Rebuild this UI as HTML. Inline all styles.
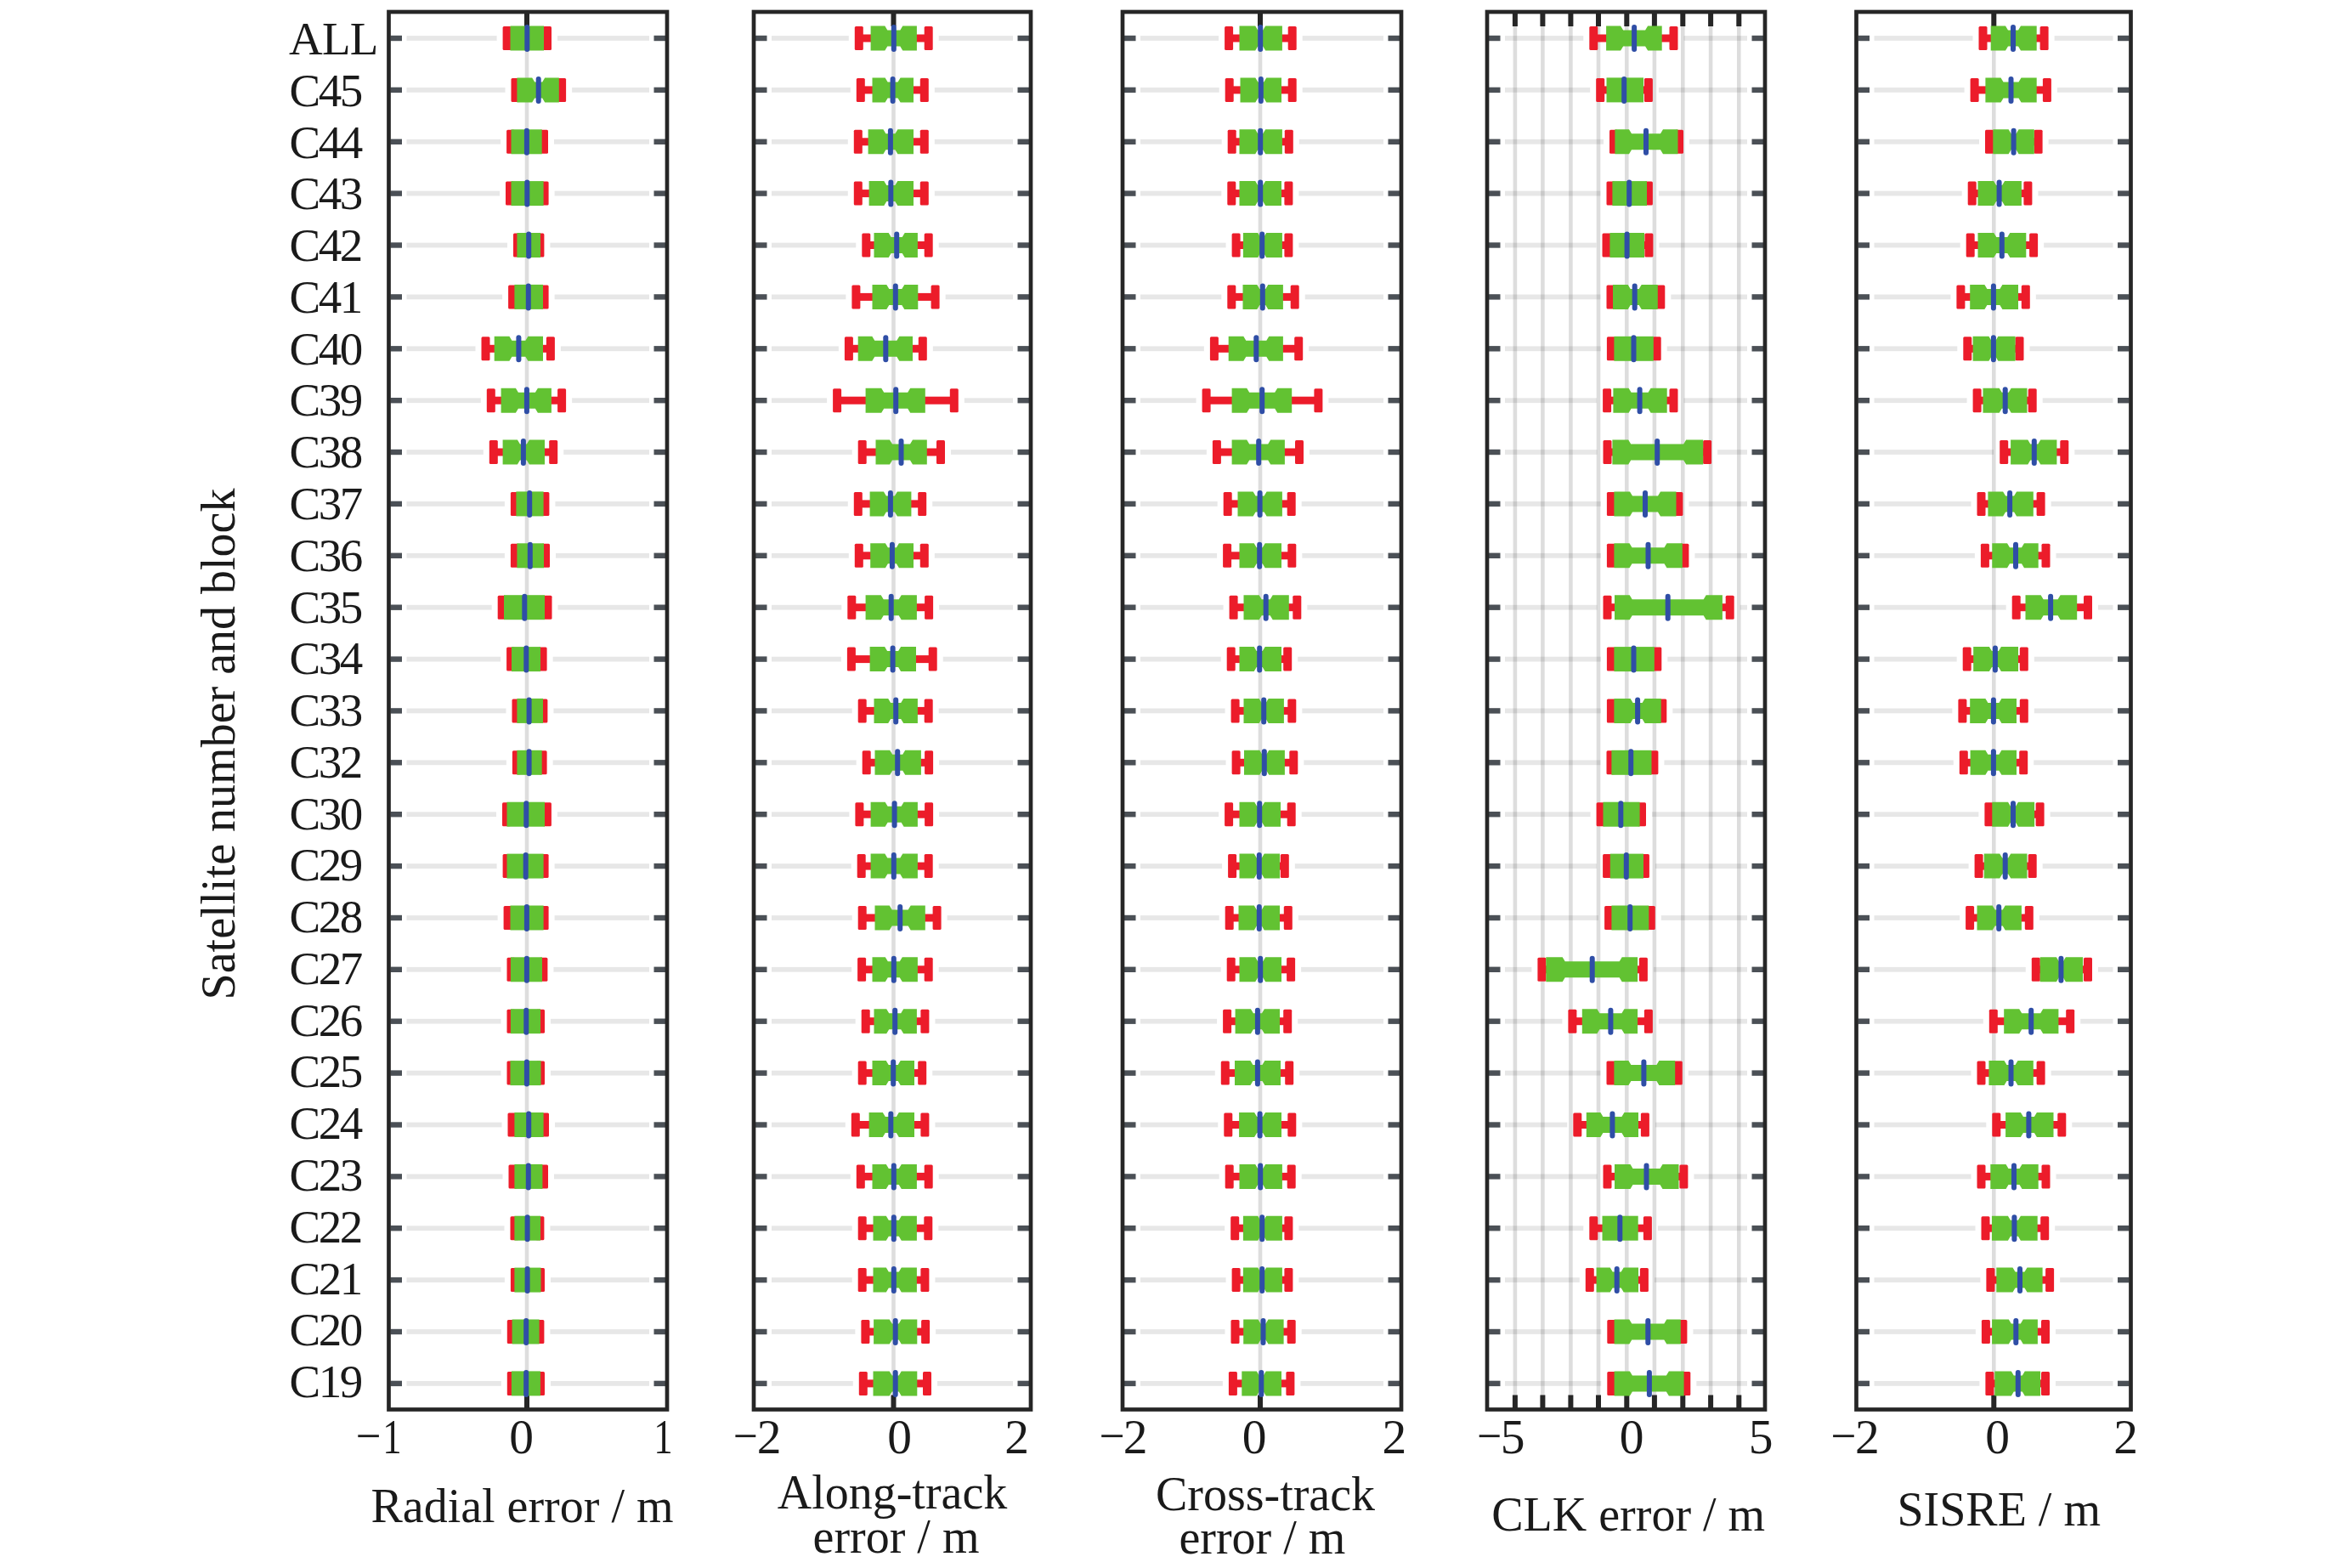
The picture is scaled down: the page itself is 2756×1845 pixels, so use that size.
<!DOCTYPE html><html><head><meta charset="utf-8"><style>html,body{margin:0;padding:0;background:#fff;width:2756px;height:1845px;overflow:hidden}svg{display:block}</style></head><body>
<svg width="2756" height="1845" viewBox="0 0 2756 1845" font-family="Liberation Serif, serif" fill="#1a1a1a">
<rect width="2756" height="1845" fill="#fff"/>
<rect x="617.7" y="14" width="4.6" height="1644.5" fill="#000" fill-opacity="0.135"/>
<rect x="478.5" y="42.1" width="106.1" height="5.8" fill="#000" fill-opacity="0.095"/>
<rect x="656" y="42.1" width="108" height="5.8" fill="#000" fill-opacity="0.095"/>
<rect x="478.5" y="103" width="116" height="5.8" fill="#000" fill-opacity="0.095"/>
<rect x="673.1" y="103" width="90.9" height="5.8" fill="#000" fill-opacity="0.095"/>
<rect x="478.5" y="163.9" width="110.6" height="5.8" fill="#000" fill-opacity="0.095"/>
<rect x="652" y="163.9" width="112" height="5.8" fill="#000" fill-opacity="0.095"/>
<rect x="478.5" y="224.7" width="109.5" height="5.8" fill="#000" fill-opacity="0.095"/>
<rect x="652.6" y="224.7" width="111.4" height="5.8" fill="#000" fill-opacity="0.095"/>
<rect x="478.5" y="285.6" width="118.5" height="5.8" fill="#000" fill-opacity="0.095"/>
<rect x="647.4" y="285.6" width="116.6" height="5.8" fill="#000" fill-opacity="0.095"/>
<rect x="478.5" y="346.5" width="112.6" height="5.8" fill="#000" fill-opacity="0.095"/>
<rect x="652.6" y="346.5" width="111.4" height="5.8" fill="#000" fill-opacity="0.095"/>
<rect x="478.5" y="407.4" width="81" height="5.8" fill="#000" fill-opacity="0.095"/>
<rect x="659.9" y="407.4" width="104.1" height="5.8" fill="#000" fill-opacity="0.095"/>
<rect x="478.5" y="468.3" width="87.3" height="5.8" fill="#000" fill-opacity="0.095"/>
<rect x="673.1" y="468.3" width="90.9" height="5.8" fill="#000" fill-opacity="0.095"/>
<rect x="478.5" y="529.1" width="90.3" height="5.8" fill="#000" fill-opacity="0.095"/>
<rect x="663.2" y="529.1" width="100.8" height="5.8" fill="#000" fill-opacity="0.095"/>
<rect x="478.5" y="590" width="115.4" height="5.8" fill="#000" fill-opacity="0.095"/>
<rect x="653.4" y="590" width="110.6" height="5.8" fill="#000" fill-opacity="0.095"/>
<rect x="478.5" y="650.9" width="115.4" height="5.8" fill="#000" fill-opacity="0.095"/>
<rect x="654" y="650.9" width="110" height="5.8" fill="#000" fill-opacity="0.095"/>
<rect x="478.5" y="711.8" width="100.2" height="5.8" fill="#000" fill-opacity="0.095"/>
<rect x="656.5" y="711.8" width="107.5" height="5.8" fill="#000" fill-opacity="0.095"/>
<rect x="478.5" y="772.7" width="110.6" height="5.8" fill="#000" fill-opacity="0.095"/>
<rect x="650.6" y="772.7" width="113.4" height="5.8" fill="#000" fill-opacity="0.095"/>
<rect x="478.5" y="833.5" width="117" height="5.8" fill="#000" fill-opacity="0.095"/>
<rect x="651.4" y="833.5" width="112.6" height="5.8" fill="#000" fill-opacity="0.095"/>
<rect x="478.5" y="894.4" width="117.4" height="5.8" fill="#000" fill-opacity="0.095"/>
<rect x="650.6" y="894.4" width="113.4" height="5.8" fill="#000" fill-opacity="0.095"/>
<rect x="478.5" y="955.3" width="105.5" height="5.8" fill="#000" fill-opacity="0.095"/>
<rect x="655.9" y="955.3" width="108.1" height="5.8" fill="#000" fill-opacity="0.095"/>
<rect x="478.5" y="1016.2" width="106.1" height="5.8" fill="#000" fill-opacity="0.095"/>
<rect x="652.6" y="1016.2" width="111.4" height="5.8" fill="#000" fill-opacity="0.095"/>
<rect x="478.5" y="1077.1" width="107.1" height="5.8" fill="#000" fill-opacity="0.095"/>
<rect x="652.6" y="1077.1" width="111.4" height="5.8" fill="#000" fill-opacity="0.095"/>
<rect x="478.5" y="1137.9" width="111" height="5.8" fill="#000" fill-opacity="0.095"/>
<rect x="651.4" y="1137.9" width="112.6" height="5.8" fill="#000" fill-opacity="0.095"/>
<rect x="478.5" y="1198.8" width="111" height="5.8" fill="#000" fill-opacity="0.095"/>
<rect x="648" y="1198.8" width="116" height="5.8" fill="#000" fill-opacity="0.095"/>
<rect x="478.5" y="1259.7" width="111" height="5.8" fill="#000" fill-opacity="0.095"/>
<rect x="648" y="1259.7" width="116" height="5.8" fill="#000" fill-opacity="0.095"/>
<rect x="478.5" y="1320.6" width="112" height="5.8" fill="#000" fill-opacity="0.095"/>
<rect x="653" y="1320.6" width="111" height="5.8" fill="#000" fill-opacity="0.095"/>
<rect x="478.5" y="1381.5" width="113" height="5.8" fill="#000" fill-opacity="0.095"/>
<rect x="652" y="1381.5" width="112" height="5.8" fill="#000" fill-opacity="0.095"/>
<rect x="478.5" y="1442.3" width="115" height="5.8" fill="#000" fill-opacity="0.095"/>
<rect x="647.4" y="1442.3" width="116.6" height="5.8" fill="#000" fill-opacity="0.095"/>
<rect x="478.5" y="1503.2" width="115.4" height="5.8" fill="#000" fill-opacity="0.095"/>
<rect x="648" y="1503.2" width="116" height="5.8" fill="#000" fill-opacity="0.095"/>
<rect x="478.5" y="1564.1" width="111.3" height="5.8" fill="#000" fill-opacity="0.095"/>
<rect x="647.4" y="1564.1" width="116.6" height="5.8" fill="#000" fill-opacity="0.095"/>
<rect x="478.5" y="1625" width="111.3" height="5.8" fill="#000" fill-opacity="0.095"/>
<rect x="648" y="1625" width="116" height="5.8" fill="#000" fill-opacity="0.095"/>
<rect x="459.5" y="41.8" width="13.5" height="6.4" fill="#4b5056"/>
<rect x="769.5" y="41.8" width="13.5" height="6.4" fill="#4b5056"/>
<rect x="459.5" y="102.7" width="13.5" height="6.4" fill="#4b5056"/>
<rect x="769.5" y="102.7" width="13.5" height="6.4" fill="#4b5056"/>
<rect x="459.5" y="163.6" width="13.5" height="6.4" fill="#4b5056"/>
<rect x="769.5" y="163.6" width="13.5" height="6.4" fill="#4b5056"/>
<rect x="459.5" y="224.4" width="13.5" height="6.4" fill="#4b5056"/>
<rect x="769.5" y="224.4" width="13.5" height="6.4" fill="#4b5056"/>
<rect x="459.5" y="285.3" width="13.5" height="6.4" fill="#4b5056"/>
<rect x="769.5" y="285.3" width="13.5" height="6.4" fill="#4b5056"/>
<rect x="459.5" y="346.2" width="13.5" height="6.4" fill="#4b5056"/>
<rect x="769.5" y="346.2" width="13.5" height="6.4" fill="#4b5056"/>
<rect x="459.5" y="407.1" width="13.5" height="6.4" fill="#4b5056"/>
<rect x="769.5" y="407.1" width="13.5" height="6.4" fill="#4b5056"/>
<rect x="459.5" y="468" width="13.5" height="6.4" fill="#4b5056"/>
<rect x="769.5" y="468" width="13.5" height="6.4" fill="#4b5056"/>
<rect x="459.5" y="528.8" width="13.5" height="6.4" fill="#4b5056"/>
<rect x="769.5" y="528.8" width="13.5" height="6.4" fill="#4b5056"/>
<rect x="459.5" y="589.7" width="13.5" height="6.4" fill="#4b5056"/>
<rect x="769.5" y="589.7" width="13.5" height="6.4" fill="#4b5056"/>
<rect x="459.5" y="650.6" width="13.5" height="6.4" fill="#4b5056"/>
<rect x="769.5" y="650.6" width="13.5" height="6.4" fill="#4b5056"/>
<rect x="459.5" y="711.5" width="13.5" height="6.4" fill="#4b5056"/>
<rect x="769.5" y="711.5" width="13.5" height="6.4" fill="#4b5056"/>
<rect x="459.5" y="772.4" width="13.5" height="6.4" fill="#4b5056"/>
<rect x="769.5" y="772.4" width="13.5" height="6.4" fill="#4b5056"/>
<rect x="459.5" y="833.2" width="13.5" height="6.4" fill="#4b5056"/>
<rect x="769.5" y="833.2" width="13.5" height="6.4" fill="#4b5056"/>
<rect x="459.5" y="894.1" width="13.5" height="6.4" fill="#4b5056"/>
<rect x="769.5" y="894.1" width="13.5" height="6.4" fill="#4b5056"/>
<rect x="459.5" y="955" width="13.5" height="6.4" fill="#4b5056"/>
<rect x="769.5" y="955" width="13.5" height="6.4" fill="#4b5056"/>
<rect x="459.5" y="1015.9" width="13.5" height="6.4" fill="#4b5056"/>
<rect x="769.5" y="1015.9" width="13.5" height="6.4" fill="#4b5056"/>
<rect x="459.5" y="1076.8" width="13.5" height="6.4" fill="#4b5056"/>
<rect x="769.5" y="1076.8" width="13.5" height="6.4" fill="#4b5056"/>
<rect x="459.5" y="1137.6" width="13.5" height="6.4" fill="#4b5056"/>
<rect x="769.5" y="1137.6" width="13.5" height="6.4" fill="#4b5056"/>
<rect x="459.5" y="1198.5" width="13.5" height="6.4" fill="#4b5056"/>
<rect x="769.5" y="1198.5" width="13.5" height="6.4" fill="#4b5056"/>
<rect x="459.5" y="1259.4" width="13.5" height="6.4" fill="#4b5056"/>
<rect x="769.5" y="1259.4" width="13.5" height="6.4" fill="#4b5056"/>
<rect x="459.5" y="1320.3" width="13.5" height="6.4" fill="#4b5056"/>
<rect x="769.5" y="1320.3" width="13.5" height="6.4" fill="#4b5056"/>
<rect x="459.5" y="1381.2" width="13.5" height="6.4" fill="#4b5056"/>
<rect x="769.5" y="1381.2" width="13.5" height="6.4" fill="#4b5056"/>
<rect x="459.5" y="1442" width="13.5" height="6.4" fill="#4b5056"/>
<rect x="769.5" y="1442" width="13.5" height="6.4" fill="#4b5056"/>
<rect x="459.5" y="1502.9" width="13.5" height="6.4" fill="#4b5056"/>
<rect x="769.5" y="1502.9" width="13.5" height="6.4" fill="#4b5056"/>
<rect x="459.5" y="1563.8" width="13.5" height="6.4" fill="#4b5056"/>
<rect x="769.5" y="1563.8" width="13.5" height="6.4" fill="#4b5056"/>
<rect x="459.5" y="1624.7" width="13.5" height="6.4" fill="#4b5056"/>
<rect x="769.5" y="1624.7" width="13.5" height="6.4" fill="#4b5056"/>
<rect x="617" y="15" width="6" height="16" fill="#262626"/>
<rect x="617" y="1641.5" width="6" height="16" fill="#262626"/>
<rect x="593.6" y="40.5" width="8.9" height="9" fill="#ec1c2a"/>
<rect x="638" y="40.5" width="9" height="9" fill="#ec1c2a"/>
<rect x="591.6" y="31" width="10" height="28" rx="1.5" fill="#ec1c2a"/>
<rect x="639" y="31" width="10" height="28" rx="1.5" fill="#ec1c2a"/>
<rect x="600.5" y="30.5" width="39.5" height="29" fill="#62c232"/>
<rect x="617.3" y="29" width="6" height="32" rx="3" fill="#2f4ea6"/>
<rect x="603.5" y="101.4" width="6.9" height="9" fill="#ec1c2a"/>
<rect x="655.8" y="101.4" width="8.3" height="9" fill="#ec1c2a"/>
<rect x="601.5" y="91.9" width="10" height="28" rx="1.5" fill="#ec1c2a"/>
<rect x="656.1" y="91.9" width="10" height="28" rx="1.5" fill="#ec1c2a"/>
<polygon points="608.4,91.4 626.2,91.4 629.2,96.4 638.2,96.4 641.2,91.4 657.8,91.4 657.8,120.4 641.2,120.4 638.2,115.4 629.2,115.4 626.2,120.4 608.4,120.4" fill="#62c232"/>
<rect x="630.7" y="89.9" width="6" height="32" rx="3" fill="#2f4ea6"/>
<rect x="598.1" y="162.3" width="5.4" height="9" fill="#ec1c2a"/>
<rect x="635.7" y="162.3" width="7.3" height="9" fill="#ec1c2a"/>
<rect x="596.1" y="152.8" width="10" height="28" rx="1.5" fill="#ec1c2a"/>
<rect x="635" y="152.8" width="10" height="28" rx="1.5" fill="#ec1c2a"/>
<rect x="601.5" y="152.3" width="36.2" height="29" fill="#62c232"/>
<rect x="616.9" y="150.8" width="6" height="32" rx="3" fill="#2f4ea6"/>
<rect x="597" y="223.1" width="6.5" height="9" fill="#ec1c2a"/>
<rect x="637.6" y="223.1" width="6" height="9" fill="#ec1c2a"/>
<rect x="595" y="213.6" width="10" height="28" rx="1.5" fill="#ec1c2a"/>
<rect x="635.6" y="213.6" width="10" height="28" rx="1.5" fill="#ec1c2a"/>
<rect x="601.5" y="213.1" width="38.1" height="29" fill="#62c232"/>
<rect x="617.3" y="211.6" width="6" height="32" rx="3" fill="#2f4ea6"/>
<rect x="606" y="284" width="4.4" height="9" fill="#ec1c2a"/>
<rect x="634" y="284" width="4.4" height="9" fill="#ec1c2a"/>
<rect x="604" y="274.5" width="10" height="28" rx="1.5" fill="#ec1c2a"/>
<rect x="630.4" y="274.5" width="10" height="28" rx="1.5" fill="#ec1c2a"/>
<rect x="608.4" y="274" width="27.6" height="29" fill="#62c232"/>
<rect x="619.2" y="272.5" width="6" height="32" rx="3" fill="#2f4ea6"/>
<rect x="600.1" y="344.9" width="7.3" height="9" fill="#ec1c2a"/>
<rect x="637" y="344.9" width="6.6" height="9" fill="#ec1c2a"/>
<rect x="598.1" y="335.4" width="10" height="28" rx="1.5" fill="#ec1c2a"/>
<rect x="635.6" y="335.4" width="10" height="28" rx="1.5" fill="#ec1c2a"/>
<rect x="605.4" y="334.9" width="33.6" height="29" fill="#62c232"/>
<rect x="618.8" y="333.4" width="6" height="32" rx="3" fill="#2f4ea6"/>
<rect x="568.5" y="405.8" width="15.2" height="9" fill="#ec1c2a"/>
<rect x="637" y="405.8" width="13.9" height="9" fill="#ec1c2a"/>
<rect x="566.5" y="396.3" width="10" height="28" rx="1.5" fill="#ec1c2a"/>
<rect x="642.9" y="396.3" width="10" height="28" rx="1.5" fill="#ec1c2a"/>
<polygon points="581.7,395.8 599.4,395.8 602.4,400.8 618.4,400.8 621.4,395.8 639,395.8 639,424.8 621.4,424.8 618.4,419.8 602.4,419.8 599.4,424.8 581.7,424.8" fill="#62c232"/>
<rect x="607.4" y="394.3" width="6" height="32" rx="3" fill="#2f4ea6"/>
<rect x="574.8" y="466.7" width="16.8" height="9" fill="#ec1c2a"/>
<rect x="646.9" y="466.7" width="17.2" height="9" fill="#ec1c2a"/>
<rect x="572.8" y="457.2" width="10" height="28" rx="1.5" fill="#ec1c2a"/>
<rect x="656.1" y="457.2" width="10" height="28" rx="1.5" fill="#ec1c2a"/>
<polygon points="589.6,456.7 606.9,456.7 609.9,461.7 629.9,461.7 632.9,456.7 648.9,456.7 648.9,485.7 632.9,485.7 629.9,480.7 609.9,480.7 606.9,485.7 589.6,485.7" fill="#62c232"/>
<rect x="616.9" y="455.2" width="6" height="32" rx="3" fill="#2f4ea6"/>
<rect x="577.8" y="527.5" width="15.8" height="9" fill="#ec1c2a"/>
<rect x="639" y="527.5" width="15.2" height="9" fill="#ec1c2a"/>
<rect x="575.8" y="518" width="10" height="28" rx="1.5" fill="#ec1c2a"/>
<rect x="646.2" y="518" width="10" height="28" rx="1.5" fill="#ec1c2a"/>
<polygon points="591.6,517.5 608.9,517.5 611.9,522.5 619.9,522.5 622.9,517.5 641,517.5 641,546.5 622.9,546.5 619.9,541.5 611.9,541.5 608.9,546.5 591.6,546.5" fill="#62c232"/>
<rect x="612.9" y="516" width="6" height="32" rx="3" fill="#2f4ea6"/>
<rect x="602.9" y="588.4" width="6.5" height="9" fill="#ec1c2a"/>
<rect x="637.6" y="588.4" width="6.8" height="9" fill="#ec1c2a"/>
<rect x="600.9" y="578.9" width="10" height="28" rx="1.5" fill="#ec1c2a"/>
<rect x="636.4" y="578.9" width="10" height="28" rx="1.5" fill="#ec1c2a"/>
<rect x="607.4" y="578.4" width="32.2" height="29" fill="#62c232"/>
<rect x="620.2" y="576.9" width="6" height="32" rx="3" fill="#2f4ea6"/>
<rect x="602.9" y="649.3" width="7.5" height="9" fill="#ec1c2a"/>
<rect x="638" y="649.3" width="7" height="9" fill="#ec1c2a"/>
<rect x="600.9" y="639.8" width="10" height="28" rx="1.5" fill="#ec1c2a"/>
<rect x="637" y="639.8" width="10" height="28" rx="1.5" fill="#ec1c2a"/>
<rect x="608.4" y="639.3" width="31.6" height="29" fill="#62c232"/>
<rect x="620.8" y="637.8" width="6" height="32" rx="3" fill="#2f4ea6"/>
<rect x="587.7" y="710.2" width="7.3" height="9" fill="#ec1c2a"/>
<rect x="639" y="710.2" width="8.5" height="9" fill="#ec1c2a"/>
<rect x="585.7" y="700.7" width="10" height="28" rx="1.5" fill="#ec1c2a"/>
<rect x="639.5" y="700.7" width="10" height="28" rx="1.5" fill="#ec1c2a"/>
<rect x="593" y="700.2" width="48" height="29" fill="#62c232"/>
<rect x="614.3" y="698.7" width="6" height="32" rx="3" fill="#2f4ea6"/>
<rect x="598.1" y="771.1" width="5.9" height="9" fill="#ec1c2a"/>
<rect x="634" y="771.1" width="7.6" height="9" fill="#ec1c2a"/>
<rect x="596.1" y="761.6" width="10" height="28" rx="1.5" fill="#ec1c2a"/>
<rect x="633.6" y="761.6" width="10" height="28" rx="1.5" fill="#ec1c2a"/>
<rect x="602" y="761.1" width="34" height="29" fill="#62c232"/>
<rect x="616.3" y="759.6" width="6" height="32" rx="3" fill="#2f4ea6"/>
<rect x="604.5" y="831.9" width="5.9" height="9" fill="#ec1c2a"/>
<rect x="637" y="831.9" width="5.4" height="9" fill="#ec1c2a"/>
<rect x="602.5" y="822.4" width="10" height="28" rx="1.5" fill="#ec1c2a"/>
<rect x="634.4" y="822.4" width="10" height="28" rx="1.5" fill="#ec1c2a"/>
<rect x="608.4" y="821.9" width="30.6" height="29" fill="#62c232"/>
<rect x="619.6" y="820.4" width="6" height="32" rx="3" fill="#2f4ea6"/>
<rect x="604.9" y="892.8" width="5.5" height="9" fill="#ec1c2a"/>
<rect x="635.7" y="892.8" width="5.9" height="9" fill="#ec1c2a"/>
<rect x="602.9" y="883.3" width="10" height="28" rx="1.5" fill="#ec1c2a"/>
<rect x="633.6" y="883.3" width="10" height="28" rx="1.5" fill="#ec1c2a"/>
<rect x="608.4" y="882.8" width="29.3" height="29" fill="#62c232"/>
<rect x="619.6" y="881.3" width="6" height="32" rx="3" fill="#2f4ea6"/>
<rect x="593" y="953.7" width="5.5" height="9" fill="#ec1c2a"/>
<rect x="639" y="953.7" width="7.9" height="9" fill="#ec1c2a"/>
<rect x="591" y="944.2" width="10" height="28" rx="1.5" fill="#ec1c2a"/>
<rect x="638.9" y="944.2" width="10" height="28" rx="1.5" fill="#ec1c2a"/>
<rect x="596.5" y="943.7" width="44.5" height="29" fill="#62c232"/>
<rect x="616.3" y="942.2" width="6" height="32" rx="3" fill="#2f4ea6"/>
<rect x="593.6" y="1014.6" width="4.9" height="9" fill="#ec1c2a"/>
<rect x="637.6" y="1014.6" width="6" height="9" fill="#ec1c2a"/>
<rect x="591.6" y="1005.1" width="10" height="28" rx="1.5" fill="#ec1c2a"/>
<rect x="635.6" y="1005.1" width="10" height="28" rx="1.5" fill="#ec1c2a"/>
<rect x="596.5" y="1004.6" width="43.1" height="29" fill="#62c232"/>
<rect x="615.7" y="1003.1" width="6" height="32" rx="3" fill="#2f4ea6"/>
<rect x="594.6" y="1075.5" width="7.9" height="9" fill="#ec1c2a"/>
<rect x="637.6" y="1075.5" width="6" height="9" fill="#ec1c2a"/>
<rect x="592.6" y="1066" width="10" height="28" rx="1.5" fill="#ec1c2a"/>
<rect x="635.6" y="1066" width="10" height="28" rx="1.5" fill="#ec1c2a"/>
<rect x="600.5" y="1065.5" width="39.1" height="29" fill="#62c232"/>
<rect x="616.9" y="1064" width="6" height="32" rx="3" fill="#2f4ea6"/>
<rect x="598.5" y="1136.3" width="4.4" height="9" fill="#ec1c2a"/>
<rect x="636" y="1136.3" width="6.4" height="9" fill="#ec1c2a"/>
<rect x="596.5" y="1126.8" width="10" height="28" rx="1.5" fill="#ec1c2a"/>
<rect x="634.4" y="1126.8" width="10" height="28" rx="1.5" fill="#ec1c2a"/>
<rect x="600.9" y="1126.3" width="37.1" height="29" fill="#62c232"/>
<rect x="616.9" y="1124.8" width="6" height="32" rx="3" fill="#2f4ea6"/>
<rect x="598.5" y="1197.2" width="4.4" height="9" fill="#ec1c2a"/>
<rect x="634" y="1197.2" width="5" height="9" fill="#ec1c2a"/>
<rect x="596.5" y="1187.7" width="10" height="28" rx="1.5" fill="#ec1c2a"/>
<rect x="631" y="1187.7" width="10" height="28" rx="1.5" fill="#ec1c2a"/>
<rect x="600.9" y="1187.2" width="35.1" height="29" fill="#62c232"/>
<rect x="616.3" y="1185.7" width="6" height="32" rx="3" fill="#2f4ea6"/>
<rect x="598.5" y="1258.1" width="4" height="9" fill="#ec1c2a"/>
<rect x="634.5" y="1258.1" width="4.5" height="9" fill="#ec1c2a"/>
<rect x="596.5" y="1248.6" width="10" height="28" rx="1.5" fill="#ec1c2a"/>
<rect x="631" y="1248.6" width="10" height="28" rx="1.5" fill="#ec1c2a"/>
<rect x="600.5" y="1248.1" width="36" height="29" fill="#62c232"/>
<rect x="616.9" y="1246.6" width="6" height="32" rx="3" fill="#2f4ea6"/>
<rect x="599.5" y="1319" width="7.9" height="9" fill="#ec1c2a"/>
<rect x="637.6" y="1319" width="6.4" height="9" fill="#ec1c2a"/>
<rect x="597.5" y="1309.5" width="10" height="28" rx="1.5" fill="#ec1c2a"/>
<rect x="636" y="1309.5" width="10" height="28" rx="1.5" fill="#ec1c2a"/>
<rect x="605.4" y="1309" width="34.2" height="29" fill="#62c232"/>
<rect x="619.2" y="1307.5" width="6" height="32" rx="3" fill="#2f4ea6"/>
<rect x="600.5" y="1379.9" width="6.9" height="9" fill="#ec1c2a"/>
<rect x="636.4" y="1379.9" width="6.6" height="9" fill="#ec1c2a"/>
<rect x="598.5" y="1370.4" width="10" height="28" rx="1.5" fill="#ec1c2a"/>
<rect x="635" y="1370.4" width="10" height="28" rx="1.5" fill="#ec1c2a"/>
<rect x="605.4" y="1369.9" width="33" height="29" fill="#62c232"/>
<rect x="618.8" y="1368.4" width="6" height="32" rx="3" fill="#2f4ea6"/>
<rect x="602.5" y="1440.7" width="4.9" height="9" fill="#ec1c2a"/>
<rect x="634" y="1440.7" width="4.4" height="9" fill="#ec1c2a"/>
<rect x="600.5" y="1431.2" width="10" height="28" rx="1.5" fill="#ec1c2a"/>
<rect x="630.4" y="1431.2" width="10" height="28" rx="1.5" fill="#ec1c2a"/>
<rect x="605.4" y="1430.7" width="30.6" height="29" fill="#62c232"/>
<rect x="617.6" y="1429.2" width="6" height="32" rx="3" fill="#2f4ea6"/>
<rect x="602.9" y="1501.6" width="4.5" height="9" fill="#ec1c2a"/>
<rect x="634.5" y="1501.6" width="4.5" height="9" fill="#ec1c2a"/>
<rect x="600.9" y="1492.1" width="10" height="28" rx="1.5" fill="#ec1c2a"/>
<rect x="631" y="1492.1" width="10" height="28" rx="1.5" fill="#ec1c2a"/>
<rect x="605.4" y="1491.6" width="31.1" height="29" fill="#62c232"/>
<rect x="617.6" y="1490.1" width="6" height="32" rx="3" fill="#2f4ea6"/>
<rect x="598.8" y="1562.5" width="5.8" height="9" fill="#ec1c2a"/>
<rect x="632.6" y="1562.5" width="5.8" height="9" fill="#ec1c2a"/>
<rect x="596.8" y="1553" width="10" height="28" rx="1.5" fill="#ec1c2a"/>
<rect x="630.4" y="1553" width="10" height="28" rx="1.5" fill="#ec1c2a"/>
<rect x="602.6" y="1552.5" width="32" height="29" fill="#62c232"/>
<rect x="616.2" y="1551" width="6" height="32" rx="3" fill="#2f4ea6"/>
<rect x="598.8" y="1623.4" width="5.1" height="9" fill="#ec1c2a"/>
<rect x="633.9" y="1623.4" width="5.1" height="9" fill="#ec1c2a"/>
<rect x="596.8" y="1613.9" width="10" height="28" rx="1.5" fill="#ec1c2a"/>
<rect x="631" y="1613.9" width="10" height="28" rx="1.5" fill="#ec1c2a"/>
<rect x="601.9" y="1613.4" width="34" height="29" fill="#62c232"/>
<rect x="616.2" y="1611.9" width="6" height="32" rx="3" fill="#2f4ea6"/>
<rect x="457.5" y="14" width="327.5" height="1644.5" fill="none" stroke="#262626" stroke-width="4.7"/>
<rect x="1049.2" y="14" width="4.6" height="1644.5" fill="#000" fill-opacity="0.135"/>
<rect x="908" y="42.1" width="90.8" height="5.8" fill="#000" fill-opacity="0.095"/>
<rect x="1104.7" y="42.1" width="87.3" height="5.8" fill="#000" fill-opacity="0.095"/>
<rect x="908" y="103" width="92.8" height="5.8" fill="#000" fill-opacity="0.095"/>
<rect x="1099.8" y="103" width="92.2" height="5.8" fill="#000" fill-opacity="0.095"/>
<rect x="908" y="163.9" width="89.8" height="5.8" fill="#000" fill-opacity="0.095"/>
<rect x="1099.8" y="163.9" width="92.2" height="5.8" fill="#000" fill-opacity="0.095"/>
<rect x="908" y="224.7" width="89.8" height="5.8" fill="#000" fill-opacity="0.095"/>
<rect x="1099.8" y="224.7" width="92.2" height="5.8" fill="#000" fill-opacity="0.095"/>
<rect x="908" y="285.6" width="99.3" height="5.8" fill="#000" fill-opacity="0.095"/>
<rect x="1104.7" y="285.6" width="87.3" height="5.8" fill="#000" fill-opacity="0.095"/>
<rect x="908" y="346.5" width="87.4" height="5.8" fill="#000" fill-opacity="0.095"/>
<rect x="1112.6" y="346.5" width="79.4" height="5.8" fill="#000" fill-opacity="0.095"/>
<rect x="908" y="407.4" width="78.9" height="5.8" fill="#000" fill-opacity="0.095"/>
<rect x="1097.8" y="407.4" width="94.2" height="5.8" fill="#000" fill-opacity="0.095"/>
<rect x="908" y="468.3" width="65.1" height="5.8" fill="#000" fill-opacity="0.095"/>
<rect x="1134.8" y="468.3" width="57.2" height="5.8" fill="#000" fill-opacity="0.095"/>
<rect x="908" y="529.1" width="94.7" height="5.8" fill="#000" fill-opacity="0.095"/>
<rect x="1119" y="529.1" width="73" height="5.8" fill="#000" fill-opacity="0.095"/>
<rect x="908" y="590" width="89.8" height="5.8" fill="#000" fill-opacity="0.095"/>
<rect x="1097.2" y="590" width="94.8" height="5.8" fill="#000" fill-opacity="0.095"/>
<rect x="908" y="650.9" width="90.8" height="5.8" fill="#000" fill-opacity="0.095"/>
<rect x="1099.8" y="650.9" width="92.2" height="5.8" fill="#000" fill-opacity="0.095"/>
<rect x="908" y="711.8" width="82.3" height="5.8" fill="#000" fill-opacity="0.095"/>
<rect x="1105.1" y="711.8" width="86.9" height="5.8" fill="#000" fill-opacity="0.095"/>
<rect x="908" y="772.7" width="81.9" height="5.8" fill="#000" fill-opacity="0.095"/>
<rect x="1109.7" y="772.7" width="82.3" height="5.8" fill="#000" fill-opacity="0.095"/>
<rect x="908" y="833.5" width="94.7" height="5.8" fill="#000" fill-opacity="0.095"/>
<rect x="1104.7" y="833.5" width="87.3" height="5.8" fill="#000" fill-opacity="0.095"/>
<rect x="908" y="894.4" width="99.7" height="5.8" fill="#000" fill-opacity="0.095"/>
<rect x="1105.1" y="894.4" width="86.9" height="5.8" fill="#000" fill-opacity="0.095"/>
<rect x="908" y="955.3" width="91.4" height="5.8" fill="#000" fill-opacity="0.095"/>
<rect x="1105.1" y="955.3" width="86.9" height="5.8" fill="#000" fill-opacity="0.095"/>
<rect x="908" y="1016.2" width="93.7" height="5.8" fill="#000" fill-opacity="0.095"/>
<rect x="1104.7" y="1016.2" width="87.3" height="5.8" fill="#000" fill-opacity="0.095"/>
<rect x="908" y="1077.1" width="94.7" height="5.8" fill="#000" fill-opacity="0.095"/>
<rect x="1114.6" y="1077.1" width="77.4" height="5.8" fill="#000" fill-opacity="0.095"/>
<rect x="908" y="1137.9" width="94.1" height="5.8" fill="#000" fill-opacity="0.095"/>
<rect x="1104.7" y="1137.9" width="87.3" height="5.8" fill="#000" fill-opacity="0.095"/>
<rect x="908" y="1198.8" width="98.7" height="5.8" fill="#000" fill-opacity="0.095"/>
<rect x="1100.4" y="1198.8" width="91.6" height="5.8" fill="#000" fill-opacity="0.095"/>
<rect x="908" y="1259.7" width="94.7" height="5.8" fill="#000" fill-opacity="0.095"/>
<rect x="1097.2" y="1259.7" width="94.8" height="5.8" fill="#000" fill-opacity="0.095"/>
<rect x="908" y="1320.6" width="86.8" height="5.8" fill="#000" fill-opacity="0.095"/>
<rect x="1100.4" y="1320.6" width="91.6" height="5.8" fill="#000" fill-opacity="0.095"/>
<rect x="908" y="1381.5" width="92.8" height="5.8" fill="#000" fill-opacity="0.095"/>
<rect x="1104.7" y="1381.5" width="87.3" height="5.8" fill="#000" fill-opacity="0.095"/>
<rect x="908" y="1442.3" width="94.7" height="5.8" fill="#000" fill-opacity="0.095"/>
<rect x="1104.3" y="1442.3" width="87.7" height="5.8" fill="#000" fill-opacity="0.095"/>
<rect x="908" y="1503.2" width="94.7" height="5.8" fill="#000" fill-opacity="0.095"/>
<rect x="1100.4" y="1503.2" width="91.6" height="5.8" fill="#000" fill-opacity="0.095"/>
<rect x="908" y="1564.1" width="98.4" height="5.8" fill="#000" fill-opacity="0.095"/>
<rect x="1101.1" y="1564.1" width="90.9" height="5.8" fill="#000" fill-opacity="0.095"/>
<rect x="908" y="1625" width="95.8" height="5.8" fill="#000" fill-opacity="0.095"/>
<rect x="1103" y="1625" width="89" height="5.8" fill="#000" fill-opacity="0.095"/>
<rect x="889" y="41.8" width="13.5" height="6.4" fill="#4b5056"/>
<rect x="1197.5" y="41.8" width="13.5" height="6.4" fill="#4b5056"/>
<rect x="889" y="102.7" width="13.5" height="6.4" fill="#4b5056"/>
<rect x="1197.5" y="102.7" width="13.5" height="6.4" fill="#4b5056"/>
<rect x="889" y="163.6" width="13.5" height="6.4" fill="#4b5056"/>
<rect x="1197.5" y="163.6" width="13.5" height="6.4" fill="#4b5056"/>
<rect x="889" y="224.4" width="13.5" height="6.4" fill="#4b5056"/>
<rect x="1197.5" y="224.4" width="13.5" height="6.4" fill="#4b5056"/>
<rect x="889" y="285.3" width="13.5" height="6.4" fill="#4b5056"/>
<rect x="1197.5" y="285.3" width="13.5" height="6.4" fill="#4b5056"/>
<rect x="889" y="346.2" width="13.5" height="6.4" fill="#4b5056"/>
<rect x="1197.5" y="346.2" width="13.5" height="6.4" fill="#4b5056"/>
<rect x="889" y="407.1" width="13.5" height="6.4" fill="#4b5056"/>
<rect x="1197.5" y="407.1" width="13.5" height="6.4" fill="#4b5056"/>
<rect x="889" y="468" width="13.5" height="6.4" fill="#4b5056"/>
<rect x="1197.5" y="468" width="13.5" height="6.4" fill="#4b5056"/>
<rect x="889" y="528.8" width="13.5" height="6.4" fill="#4b5056"/>
<rect x="1197.5" y="528.8" width="13.5" height="6.4" fill="#4b5056"/>
<rect x="889" y="589.7" width="13.5" height="6.4" fill="#4b5056"/>
<rect x="1197.5" y="589.7" width="13.5" height="6.4" fill="#4b5056"/>
<rect x="889" y="650.6" width="13.5" height="6.4" fill="#4b5056"/>
<rect x="1197.5" y="650.6" width="13.5" height="6.4" fill="#4b5056"/>
<rect x="889" y="711.5" width="13.5" height="6.4" fill="#4b5056"/>
<rect x="1197.5" y="711.5" width="13.5" height="6.4" fill="#4b5056"/>
<rect x="889" y="772.4" width="13.5" height="6.4" fill="#4b5056"/>
<rect x="1197.5" y="772.4" width="13.5" height="6.4" fill="#4b5056"/>
<rect x="889" y="833.2" width="13.5" height="6.4" fill="#4b5056"/>
<rect x="1197.5" y="833.2" width="13.5" height="6.4" fill="#4b5056"/>
<rect x="889" y="894.1" width="13.5" height="6.4" fill="#4b5056"/>
<rect x="1197.5" y="894.1" width="13.5" height="6.4" fill="#4b5056"/>
<rect x="889" y="955" width="13.5" height="6.4" fill="#4b5056"/>
<rect x="1197.5" y="955" width="13.5" height="6.4" fill="#4b5056"/>
<rect x="889" y="1015.9" width="13.5" height="6.4" fill="#4b5056"/>
<rect x="1197.5" y="1015.9" width="13.5" height="6.4" fill="#4b5056"/>
<rect x="889" y="1076.8" width="13.5" height="6.4" fill="#4b5056"/>
<rect x="1197.5" y="1076.8" width="13.5" height="6.4" fill="#4b5056"/>
<rect x="889" y="1137.6" width="13.5" height="6.4" fill="#4b5056"/>
<rect x="1197.5" y="1137.6" width="13.5" height="6.4" fill="#4b5056"/>
<rect x="889" y="1198.5" width="13.5" height="6.4" fill="#4b5056"/>
<rect x="1197.5" y="1198.5" width="13.5" height="6.4" fill="#4b5056"/>
<rect x="889" y="1259.4" width="13.5" height="6.4" fill="#4b5056"/>
<rect x="1197.5" y="1259.4" width="13.5" height="6.4" fill="#4b5056"/>
<rect x="889" y="1320.3" width="13.5" height="6.4" fill="#4b5056"/>
<rect x="1197.5" y="1320.3" width="13.5" height="6.4" fill="#4b5056"/>
<rect x="889" y="1381.2" width="13.5" height="6.4" fill="#4b5056"/>
<rect x="1197.5" y="1381.2" width="13.5" height="6.4" fill="#4b5056"/>
<rect x="889" y="1442" width="13.5" height="6.4" fill="#4b5056"/>
<rect x="1197.5" y="1442" width="13.5" height="6.4" fill="#4b5056"/>
<rect x="889" y="1502.9" width="13.5" height="6.4" fill="#4b5056"/>
<rect x="1197.5" y="1502.9" width="13.5" height="6.4" fill="#4b5056"/>
<rect x="889" y="1563.8" width="13.5" height="6.4" fill="#4b5056"/>
<rect x="1197.5" y="1563.8" width="13.5" height="6.4" fill="#4b5056"/>
<rect x="889" y="1624.7" width="13.5" height="6.4" fill="#4b5056"/>
<rect x="1197.5" y="1624.7" width="13.5" height="6.4" fill="#4b5056"/>
<rect x="1048.5" y="15" width="6" height="16" fill="#262626"/>
<rect x="1048.5" y="1641.5" width="6" height="16" fill="#262626"/>
<rect x="1007.8" y="40.5" width="18.8" height="9" fill="#ec1c2a"/>
<rect x="1076.9" y="40.5" width="18.8" height="9" fill="#ec1c2a"/>
<rect x="1005.8" y="31" width="10" height="28" rx="1.5" fill="#ec1c2a"/>
<rect x="1087.7" y="31" width="10" height="28" rx="1.5" fill="#ec1c2a"/>
<polygon points="1024.6,30.5 1041.3,30.5 1044.3,35.5 1059.3,35.5 1062.3,30.5 1078.9,30.5 1078.9,59.5 1062.3,59.5 1059.3,54.5 1044.3,54.5 1041.3,59.5 1024.6,59.5" fill="#62c232"/>
<rect x="1048.8" y="29" width="6" height="32" rx="3" fill="#2f4ea6"/>
<rect x="1009.8" y="101.4" width="18.7" height="9" fill="#ec1c2a"/>
<rect x="1073" y="101.4" width="17.8" height="9" fill="#ec1c2a"/>
<rect x="1007.8" y="91.9" width="10" height="28" rx="1.5" fill="#ec1c2a"/>
<rect x="1082.8" y="91.9" width="10" height="28" rx="1.5" fill="#ec1c2a"/>
<polygon points="1026.5,91.4 1041.6,91.4 1044.6,96.4 1056.6,96.4 1059.6,91.4 1075,91.4 1075,120.4 1059.6,120.4 1056.6,115.4 1044.6,115.4 1041.6,120.4 1026.5,120.4" fill="#62c232"/>
<rect x="1047.6" y="89.9" width="6" height="32" rx="3" fill="#2f4ea6"/>
<rect x="1006.8" y="162.3" width="16.8" height="9" fill="#ec1c2a"/>
<rect x="1073" y="162.3" width="17.8" height="9" fill="#ec1c2a"/>
<rect x="1004.8" y="152.8" width="10" height="28" rx="1.5" fill="#ec1c2a"/>
<rect x="1082.8" y="152.8" width="10" height="28" rx="1.5" fill="#ec1c2a"/>
<polygon points="1021.6,152.3 1039.4,152.3 1042.4,157.3 1053.4,157.3 1056.4,152.3 1075,152.3 1075,181.3 1056.4,181.3 1053.4,176.3 1042.4,176.3 1039.4,181.3 1021.6,181.3" fill="#62c232"/>
<rect x="1044.9" y="150.8" width="6" height="32" rx="3" fill="#2f4ea6"/>
<rect x="1006.8" y="223.1" width="17.8" height="9" fill="#ec1c2a"/>
<rect x="1073" y="223.1" width="17.8" height="9" fill="#ec1c2a"/>
<rect x="1004.8" y="213.6" width="10" height="28" rx="1.5" fill="#ec1c2a"/>
<rect x="1082.8" y="213.6" width="10" height="28" rx="1.5" fill="#ec1c2a"/>
<polygon points="1022.6,213.1 1040.3,213.1 1043.3,218.1 1053.3,218.1 1056.3,213.1 1075,213.1 1075,242.1 1056.3,242.1 1053.3,237.1 1043.3,237.1 1040.3,242.1 1022.6,242.1" fill="#62c232"/>
<rect x="1045.3" y="211.6" width="6" height="32" rx="3" fill="#2f4ea6"/>
<rect x="1016.3" y="284" width="14.2" height="9" fill="#ec1c2a"/>
<rect x="1077.9" y="284" width="17.8" height="9" fill="#ec1c2a"/>
<rect x="1014.3" y="274.5" width="10" height="28" rx="1.5" fill="#ec1c2a"/>
<rect x="1087.7" y="274.5" width="10" height="28" rx="1.5" fill="#ec1c2a"/>
<polygon points="1028.5,274 1045.7,274 1048.7,279 1061.7,279 1064.7,274 1079.9,274 1079.9,303 1064.7,303 1061.7,298 1048.7,298 1045.7,303 1028.5,303" fill="#62c232"/>
<rect x="1052.2" y="272.5" width="6" height="32" rx="3" fill="#2f4ea6"/>
<rect x="1004.4" y="344.9" width="24.1" height="9" fill="#ec1c2a"/>
<rect x="1078.3" y="344.9" width="25.3" height="9" fill="#ec1c2a"/>
<rect x="1002.4" y="335.4" width="10" height="28" rx="1.5" fill="#ec1c2a"/>
<rect x="1095.6" y="335.4" width="10" height="28" rx="1.5" fill="#ec1c2a"/>
<polygon points="1026.5,334.9 1043.3,334.9 1046.3,339.9 1061.3,339.9 1064.3,334.9 1080.3,334.9 1080.3,363.9 1064.3,363.9 1061.3,358.9 1046.3,358.9 1043.3,363.9 1026.5,363.9" fill="#62c232"/>
<rect x="1050.8" y="333.4" width="6" height="32" rx="3" fill="#2f4ea6"/>
<rect x="995.9" y="405.8" width="15.8" height="9" fill="#ec1c2a"/>
<rect x="1072" y="405.8" width="16.8" height="9" fill="#ec1c2a"/>
<rect x="993.9" y="396.3" width="10" height="28" rx="1.5" fill="#ec1c2a"/>
<rect x="1080.8" y="396.3" width="10" height="28" rx="1.5" fill="#ec1c2a"/>
<polygon points="1009.7,395.8 1026.3,395.8 1029.3,400.8 1055.3,400.8 1058.3,395.8 1074,395.8 1074,424.8 1058.3,424.8 1055.3,419.8 1029.3,419.8 1026.3,424.8 1009.7,424.8" fill="#62c232"/>
<rect x="1039.3" y="394.3" width="6" height="32" rx="3" fill="#2f4ea6"/>
<rect x="982.1" y="466.7" width="38.5" height="9" fill="#ec1c2a"/>
<rect x="1086.8" y="466.7" width="39" height="9" fill="#ec1c2a"/>
<rect x="980.1" y="457.2" width="10" height="28" rx="1.5" fill="#ec1c2a"/>
<rect x="1117.8" y="457.2" width="10" height="28" rx="1.5" fill="#ec1c2a"/>
<polygon points="1018.6,456.7 1037.2,456.7 1040.2,461.7 1068.2,461.7 1071.2,456.7 1088.8,456.7 1088.8,485.7 1071.2,485.7 1068.2,480.7 1040.2,480.7 1037.2,485.7 1018.6,485.7" fill="#62c232"/>
<rect x="1051.2" y="455.2" width="6" height="32" rx="3" fill="#2f4ea6"/>
<rect x="1011.7" y="527.5" width="20.8" height="9" fill="#ec1c2a"/>
<rect x="1088.8" y="527.5" width="21.2" height="9" fill="#ec1c2a"/>
<rect x="1009.7" y="518" width="10" height="28" rx="1.5" fill="#ec1c2a"/>
<rect x="1102" y="518" width="10" height="28" rx="1.5" fill="#ec1c2a"/>
<polygon points="1030.5,517.5 1047,517.5 1050,522.5 1071,522.5 1074,517.5 1090.8,517.5 1090.8,546.5 1074,546.5 1071,541.5 1050,541.5 1047,546.5 1030.5,546.5" fill="#62c232"/>
<rect x="1057.5" y="516" width="6" height="32" rx="3" fill="#2f4ea6"/>
<rect x="1006.8" y="588.4" width="18.8" height="9" fill="#ec1c2a"/>
<rect x="1070.4" y="588.4" width="17.8" height="9" fill="#ec1c2a"/>
<rect x="1004.8" y="578.9" width="10" height="28" rx="1.5" fill="#ec1c2a"/>
<rect x="1080.2" y="578.9" width="10" height="28" rx="1.5" fill="#ec1c2a"/>
<polygon points="1023.6,578.4 1039.9,578.4 1042.9,583.4 1052.9,583.4 1055.9,578.4 1072.4,578.4 1072.4,607.4 1055.9,607.4 1052.9,602.4 1042.9,602.4 1039.9,607.4 1023.6,607.4" fill="#62c232"/>
<rect x="1044.9" y="576.9" width="6" height="32" rx="3" fill="#2f4ea6"/>
<rect x="1007.8" y="649.3" width="18.4" height="9" fill="#ec1c2a"/>
<rect x="1073" y="649.3" width="17.8" height="9" fill="#ec1c2a"/>
<rect x="1005.8" y="639.8" width="10" height="28" rx="1.5" fill="#ec1c2a"/>
<rect x="1082.8" y="639.8" width="10" height="28" rx="1.5" fill="#ec1c2a"/>
<polygon points="1024.2,639.3 1041.9,639.3 1044.9,644.3 1054.9,644.3 1057.9,639.3 1075,639.3 1075,668.3 1057.9,668.3 1054.9,663.3 1044.9,663.3 1041.9,668.3 1024.2,668.3" fill="#62c232"/>
<rect x="1046.9" y="637.8" width="6" height="32" rx="3" fill="#2f4ea6"/>
<rect x="999.3" y="710.2" width="21.3" height="9" fill="#ec1c2a"/>
<rect x="1076.9" y="710.2" width="19.2" height="9" fill="#ec1c2a"/>
<rect x="997.3" y="700.7" width="10" height="28" rx="1.5" fill="#ec1c2a"/>
<rect x="1088.1" y="700.7" width="10" height="28" rx="1.5" fill="#ec1c2a"/>
<polygon points="1018.6,700.2 1036.7,700.2 1039.7,705.2 1057.7,705.2 1060.7,700.2 1078.9,700.2 1078.9,729.2 1060.7,729.2 1057.7,724.2 1039.7,724.2 1036.7,729.2 1018.6,729.2" fill="#62c232"/>
<rect x="1045.7" y="698.7" width="6" height="32" rx="3" fill="#2f4ea6"/>
<rect x="998.9" y="771.1" width="26.7" height="9" fill="#ec1c2a"/>
<rect x="1076" y="771.1" width="24.7" height="9" fill="#ec1c2a"/>
<rect x="996.9" y="761.6" width="10" height="28" rx="1.5" fill="#ec1c2a"/>
<rect x="1092.7" y="761.6" width="10" height="28" rx="1.5" fill="#ec1c2a"/>
<polygon points="1023.6,761.1 1041.1,761.1 1044.1,766.1 1057.1,766.1 1060.1,761.1 1078,761.1 1078,790.1 1060.1,790.1 1057.1,785.1 1044.1,785.1 1041.1,790.1 1023.6,790.1" fill="#62c232"/>
<rect x="1047.6" y="759.6" width="6" height="32" rx="3" fill="#2f4ea6"/>
<rect x="1011.7" y="831.9" width="18.8" height="9" fill="#ec1c2a"/>
<rect x="1077.9" y="831.9" width="17.8" height="9" fill="#ec1c2a"/>
<rect x="1009.7" y="822.4" width="10" height="28" rx="1.5" fill="#ec1c2a"/>
<rect x="1087.7" y="822.4" width="10" height="28" rx="1.5" fill="#ec1c2a"/>
<polygon points="1028.5,821.9 1045.2,821.9 1048.2,826.9 1060.2,826.9 1063.2,821.9 1079.9,821.9 1079.9,850.9 1063.2,850.9 1060.2,845.9 1048.2,845.9 1045.2,850.9 1028.5,850.9" fill="#62c232"/>
<rect x="1051.2" y="820.4" width="6" height="32" rx="3" fill="#2f4ea6"/>
<rect x="1016.7" y="892.8" width="14.8" height="9" fill="#ec1c2a"/>
<rect x="1081.9" y="892.8" width="14.2" height="9" fill="#ec1c2a"/>
<rect x="1014.7" y="883.3" width="10" height="28" rx="1.5" fill="#ec1c2a"/>
<rect x="1088.1" y="883.3" width="10" height="28" rx="1.5" fill="#ec1c2a"/>
<polygon points="1029.5,882.8 1047.2,882.8 1050.2,887.8 1062.2,887.8 1065.2,882.8 1083.9,882.8 1083.9,911.8 1065.2,911.8 1062.2,906.8 1050.2,906.8 1047.2,911.8 1029.5,911.8" fill="#62c232"/>
<rect x="1053.2" y="881.3" width="6" height="32" rx="3" fill="#2f4ea6"/>
<rect x="1008.4" y="953.7" width="18.2" height="9" fill="#ec1c2a"/>
<rect x="1077.9" y="953.7" width="18.2" height="9" fill="#ec1c2a"/>
<rect x="1006.4" y="944.2" width="10" height="28" rx="1.5" fill="#ec1c2a"/>
<rect x="1088.1" y="944.2" width="10" height="28" rx="1.5" fill="#ec1c2a"/>
<polygon points="1024.6,943.7 1041.6,943.7 1044.6,948.7 1060.6,948.7 1063.6,943.7 1079.9,943.7 1079.9,972.7 1063.6,972.7 1060.6,967.7 1044.6,967.7 1041.6,972.7 1024.6,972.7" fill="#62c232"/>
<rect x="1049.6" y="942.2" width="6" height="32" rx="3" fill="#2f4ea6"/>
<rect x="1010.7" y="1014.6" width="15.9" height="9" fill="#ec1c2a"/>
<rect x="1077.9" y="1014.6" width="17.8" height="9" fill="#ec1c2a"/>
<rect x="1008.7" y="1005.1" width="10" height="28" rx="1.5" fill="#ec1c2a"/>
<rect x="1087.7" y="1005.1" width="10" height="28" rx="1.5" fill="#ec1c2a"/>
<polygon points="1024.6,1004.6 1041.3,1004.6 1044.3,1009.6 1059.3,1009.6 1062.3,1004.6 1079.9,1004.6 1079.9,1033.6 1062.3,1033.6 1059.3,1028.6 1044.3,1028.6 1041.3,1033.6 1024.6,1033.6" fill="#62c232"/>
<rect x="1048.8" y="1003.1" width="6" height="32" rx="3" fill="#2f4ea6"/>
<rect x="1011.7" y="1075.5" width="19.8" height="9" fill="#ec1c2a"/>
<rect x="1086.8" y="1075.5" width="18.8" height="9" fill="#ec1c2a"/>
<rect x="1009.7" y="1066" width="10" height="28" rx="1.5" fill="#ec1c2a"/>
<rect x="1097.6" y="1066" width="10" height="28" rx="1.5" fill="#ec1c2a"/>
<polygon points="1029.5,1065.5 1046.7,1065.5 1049.7,1070.5 1068.7,1070.5 1071.7,1065.5 1088.8,1065.5 1088.8,1094.5 1071.7,1094.5 1068.7,1089.5 1049.7,1089.5 1046.7,1094.5 1029.5,1094.5" fill="#62c232"/>
<rect x="1056.2" y="1064" width="6" height="32" rx="3" fill="#2f4ea6"/>
<rect x="1011.1" y="1136.3" width="17.4" height="9" fill="#ec1c2a"/>
<rect x="1077.9" y="1136.3" width="17.8" height="9" fill="#ec1c2a"/>
<rect x="1009.1" y="1126.8" width="10" height="28" rx="1.5" fill="#ec1c2a"/>
<rect x="1087.7" y="1126.8" width="10" height="28" rx="1.5" fill="#ec1c2a"/>
<polygon points="1026.5,1126.3 1041.8,1126.3 1044.8,1131.3 1058.8,1131.3 1061.8,1126.3 1079.9,1126.3 1079.9,1155.3 1061.8,1155.3 1058.8,1150.3 1044.8,1150.3 1041.8,1155.3 1026.5,1155.3" fill="#62c232"/>
<rect x="1048.8" y="1124.8" width="6" height="32" rx="3" fill="#2f4ea6"/>
<rect x="1015.7" y="1197.2" width="14.8" height="9" fill="#ec1c2a"/>
<rect x="1076.9" y="1197.2" width="14.5" height="9" fill="#ec1c2a"/>
<rect x="1013.7" y="1187.7" width="10" height="28" rx="1.5" fill="#ec1c2a"/>
<rect x="1083.4" y="1187.7" width="10" height="28" rx="1.5" fill="#ec1c2a"/>
<polygon points="1028.5,1187.2 1043.2,1187.2 1046.2,1192.2 1060.2,1192.2 1063.2,1187.2 1078.9,1187.2 1078.9,1216.2 1063.2,1216.2 1060.2,1211.2 1046.2,1211.2 1043.2,1216.2 1028.5,1216.2" fill="#62c232"/>
<rect x="1050.2" y="1185.7" width="6" height="32" rx="3" fill="#2f4ea6"/>
<rect x="1011.7" y="1258.1" width="16.8" height="9" fill="#ec1c2a"/>
<rect x="1074" y="1258.1" width="14.2" height="9" fill="#ec1c2a"/>
<rect x="1009.7" y="1248.6" width="10" height="28" rx="1.5" fill="#ec1c2a"/>
<rect x="1080.2" y="1248.6" width="10" height="28" rx="1.5" fill="#ec1c2a"/>
<polygon points="1026.5,1248.1 1042.7,1248.1 1045.7,1253.1 1056.7,1253.1 1059.7,1248.1 1076,1248.1 1076,1277.1 1059.7,1277.1 1056.7,1272.1 1045.7,1272.1 1042.7,1277.1 1026.5,1277.1" fill="#62c232"/>
<rect x="1048.2" y="1246.6" width="6" height="32" rx="3" fill="#2f4ea6"/>
<rect x="1003.8" y="1319" width="20.8" height="9" fill="#ec1c2a"/>
<rect x="1074" y="1319" width="17.4" height="9" fill="#ec1c2a"/>
<rect x="1001.8" y="1309.5" width="10" height="28" rx="1.5" fill="#ec1c2a"/>
<rect x="1083.4" y="1309.5" width="10" height="28" rx="1.5" fill="#ec1c2a"/>
<polygon points="1022.6,1309 1038.8,1309 1041.8,1314 1054.8,1314 1057.8,1309 1076,1309 1076,1338 1057.8,1338 1054.8,1333 1041.8,1333 1038.8,1338 1022.6,1338" fill="#62c232"/>
<rect x="1045.3" y="1307.5" width="6" height="32" rx="3" fill="#2f4ea6"/>
<rect x="1009.8" y="1379.9" width="18.7" height="9" fill="#ec1c2a"/>
<rect x="1076.9" y="1379.9" width="18.8" height="9" fill="#ec1c2a"/>
<rect x="1007.8" y="1370.4" width="10" height="28" rx="1.5" fill="#ec1c2a"/>
<rect x="1087.7" y="1370.4" width="10" height="28" rx="1.5" fill="#ec1c2a"/>
<polygon points="1026.5,1369.9 1042.8,1369.9 1045.8,1374.9 1057.8,1374.9 1060.8,1369.9 1078.9,1369.9 1078.9,1398.9 1060.8,1398.9 1057.8,1393.9 1045.8,1393.9 1042.8,1398.9 1026.5,1398.9" fill="#62c232"/>
<rect x="1048.8" y="1368.4" width="6" height="32" rx="3" fill="#2f4ea6"/>
<rect x="1011.7" y="1440.7" width="17.8" height="9" fill="#ec1c2a"/>
<rect x="1076.9" y="1440.7" width="18.4" height="9" fill="#ec1c2a"/>
<rect x="1009.7" y="1431.2" width="10" height="28" rx="1.5" fill="#ec1c2a"/>
<rect x="1087.3" y="1431.2" width="10" height="28" rx="1.5" fill="#ec1c2a"/>
<polygon points="1027.5,1430.7 1042.8,1430.7 1045.8,1435.7 1057.8,1435.7 1060.8,1430.7 1078.9,1430.7 1078.9,1459.7 1060.8,1459.7 1057.8,1454.7 1045.8,1454.7 1042.8,1459.7 1027.5,1459.7" fill="#62c232"/>
<rect x="1048.8" y="1429.2" width="6" height="32" rx="3" fill="#2f4ea6"/>
<rect x="1011.7" y="1501.6" width="17.8" height="9" fill="#ec1c2a"/>
<rect x="1076.9" y="1501.6" width="14.5" height="9" fill="#ec1c2a"/>
<rect x="1009.7" y="1492.1" width="10" height="28" rx="1.5" fill="#ec1c2a"/>
<rect x="1083.4" y="1492.1" width="10" height="28" rx="1.5" fill="#ec1c2a"/>
<polygon points="1027.5,1491.6 1042.8,1491.6 1045.8,1496.6 1057.8,1496.6 1060.8,1491.6 1078.9,1491.6 1078.9,1520.6 1060.8,1520.6 1057.8,1515.6 1045.8,1515.6 1042.8,1520.6 1027.5,1520.6" fill="#62c232"/>
<rect x="1048.8" y="1490.1" width="6" height="32" rx="3" fill="#2f4ea6"/>
<rect x="1015.4" y="1562.5" width="14.7" height="9" fill="#ec1c2a"/>
<rect x="1077.3" y="1562.5" width="14.8" height="9" fill="#ec1c2a"/>
<rect x="1013.4" y="1553" width="10" height="28" rx="1.5" fill="#ec1c2a"/>
<rect x="1084.1" y="1553" width="10" height="28" rx="1.5" fill="#ec1c2a"/>
<polygon points="1028.1,1552.5 1046.7,1552.5 1049.7,1557.5 1057.7,1557.5 1060.7,1552.5 1079.3,1552.5 1079.3,1581.5 1060.7,1581.5 1057.7,1576.5 1049.7,1576.5 1046.7,1581.5 1028.1,1581.5" fill="#62c232"/>
<rect x="1050.7" y="1551" width="6" height="32" rx="3" fill="#2f4ea6"/>
<rect x="1012.8" y="1623.4" width="16.7" height="9" fill="#ec1c2a"/>
<rect x="1077.3" y="1623.4" width="16.7" height="9" fill="#ec1c2a"/>
<rect x="1010.8" y="1613.9" width="10" height="28" rx="1.5" fill="#ec1c2a"/>
<rect x="1086" y="1613.9" width="10" height="28" rx="1.5" fill="#ec1c2a"/>
<polygon points="1027.5,1613.4 1046.7,1613.4 1049.7,1618.4 1057.7,1618.4 1060.7,1613.4 1079.3,1613.4 1079.3,1642.4 1060.7,1642.4 1057.7,1637.4 1049.7,1637.4 1046.7,1642.4 1027.5,1642.4" fill="#62c232"/>
<rect x="1050.7" y="1611.9" width="6" height="32" rx="3" fill="#2f4ea6"/>
<rect x="887" y="14" width="326" height="1644.5" fill="none" stroke="#262626" stroke-width="4.7"/>
<rect x="1480.7" y="14" width="4.6" height="1644.5" fill="#000" fill-opacity="0.135"/>
<rect x="1342" y="42.1" width="92.1" height="5.8" fill="#000" fill-opacity="0.095"/>
<rect x="1532.7" y="42.1" width="95.3" height="5.8" fill="#000" fill-opacity="0.095"/>
<rect x="1342" y="103" width="92.7" height="5.8" fill="#000" fill-opacity="0.095"/>
<rect x="1532.7" y="103" width="95.3" height="5.8" fill="#000" fill-opacity="0.095"/>
<rect x="1342" y="163.9" width="95.7" height="5.8" fill="#000" fill-opacity="0.095"/>
<rect x="1528.8" y="163.9" width="99.2" height="5.8" fill="#000" fill-opacity="0.095"/>
<rect x="1342" y="224.7" width="95.3" height="5.8" fill="#000" fill-opacity="0.095"/>
<rect x="1528.4" y="224.7" width="99.6" height="5.8" fill="#000" fill-opacity="0.095"/>
<rect x="1342" y="285.6" width="100.6" height="5.8" fill="#000" fill-opacity="0.095"/>
<rect x="1528.4" y="285.6" width="99.6" height="5.8" fill="#000" fill-opacity="0.095"/>
<rect x="1342" y="346.5" width="95.3" height="5.8" fill="#000" fill-opacity="0.095"/>
<rect x="1535.7" y="346.5" width="92.3" height="5.8" fill="#000" fill-opacity="0.095"/>
<rect x="1342" y="407.4" width="74.9" height="5.8" fill="#000" fill-opacity="0.095"/>
<rect x="1540.2" y="407.4" width="87.8" height="5.8" fill="#000" fill-opacity="0.095"/>
<rect x="1342" y="468.3" width="65.6" height="5.8" fill="#000" fill-opacity="0.095"/>
<rect x="1563.4" y="468.3" width="64.6" height="5.8" fill="#000" fill-opacity="0.095"/>
<rect x="1342" y="529.1" width="77.9" height="5.8" fill="#000" fill-opacity="0.095"/>
<rect x="1541" y="529.1" width="87" height="5.8" fill="#000" fill-opacity="0.095"/>
<rect x="1342" y="590" width="90.7" height="5.8" fill="#000" fill-opacity="0.095"/>
<rect x="1531.7" y="590" width="96.3" height="5.8" fill="#000" fill-opacity="0.095"/>
<rect x="1342" y="650.9" width="90.1" height="5.8" fill="#000" fill-opacity="0.095"/>
<rect x="1532.3" y="650.9" width="95.7" height="5.8" fill="#000" fill-opacity="0.095"/>
<rect x="1342" y="711.8" width="97.6" height="5.8" fill="#000" fill-opacity="0.095"/>
<rect x="1538.3" y="711.8" width="89.7" height="5.8" fill="#000" fill-opacity="0.095"/>
<rect x="1342" y="772.7" width="94.7" height="5.8" fill="#000" fill-opacity="0.095"/>
<rect x="1527.2" y="772.7" width="100.8" height="5.8" fill="#000" fill-opacity="0.095"/>
<rect x="1342" y="833.5" width="99.6" height="5.8" fill="#000" fill-opacity="0.095"/>
<rect x="1532.3" y="833.5" width="95.7" height="5.8" fill="#000" fill-opacity="0.095"/>
<rect x="1342" y="894.4" width="100.6" height="5.8" fill="#000" fill-opacity="0.095"/>
<rect x="1534.3" y="894.4" width="93.7" height="5.8" fill="#000" fill-opacity="0.095"/>
<rect x="1342" y="955.3" width="92.1" height="5.8" fill="#000" fill-opacity="0.095"/>
<rect x="1531.7" y="955.3" width="96.3" height="5.8" fill="#000" fill-opacity="0.095"/>
<rect x="1342" y="1016.2" width="96.1" height="5.8" fill="#000" fill-opacity="0.095"/>
<rect x="1523.8" y="1016.2" width="104.2" height="5.8" fill="#000" fill-opacity="0.095"/>
<rect x="1342" y="1077.1" width="92.7" height="5.8" fill="#000" fill-opacity="0.095"/>
<rect x="1527.8" y="1077.1" width="100.2" height="5.8" fill="#000" fill-opacity="0.095"/>
<rect x="1342" y="1137.9" width="94.7" height="5.8" fill="#000" fill-opacity="0.095"/>
<rect x="1531.1" y="1137.9" width="96.9" height="5.8" fill="#000" fill-opacity="0.095"/>
<rect x="1342" y="1198.8" width="90.1" height="5.8" fill="#000" fill-opacity="0.095"/>
<rect x="1527.2" y="1198.8" width="100.8" height="5.8" fill="#000" fill-opacity="0.095"/>
<rect x="1342" y="1259.7" width="87.8" height="5.8" fill="#000" fill-opacity="0.095"/>
<rect x="1529.2" y="1259.7" width="98.8" height="5.8" fill="#000" fill-opacity="0.095"/>
<rect x="1342" y="1320.6" width="91.3" height="5.8" fill="#000" fill-opacity="0.095"/>
<rect x="1532.3" y="1320.6" width="95.7" height="5.8" fill="#000" fill-opacity="0.095"/>
<rect x="1342" y="1381.5" width="92.7" height="5.8" fill="#000" fill-opacity="0.095"/>
<rect x="1531.7" y="1381.5" width="96.3" height="5.8" fill="#000" fill-opacity="0.095"/>
<rect x="1342" y="1442.3" width="99.2" height="5.8" fill="#000" fill-opacity="0.095"/>
<rect x="1528.4" y="1442.3" width="99.6" height="5.8" fill="#000" fill-opacity="0.095"/>
<rect x="1342" y="1503.2" width="100.6" height="5.8" fill="#000" fill-opacity="0.095"/>
<rect x="1528.4" y="1503.2" width="99.6" height="5.8" fill="#000" fill-opacity="0.095"/>
<rect x="1342" y="1564.1" width="99.5" height="5.8" fill="#000" fill-opacity="0.095"/>
<rect x="1531.7" y="1564.1" width="96.3" height="5.8" fill="#000" fill-opacity="0.095"/>
<rect x="1342" y="1625" width="96.9" height="5.8" fill="#000" fill-opacity="0.095"/>
<rect x="1530.4" y="1625" width="97.6" height="5.8" fill="#000" fill-opacity="0.095"/>
<rect x="1323" y="41.8" width="13.5" height="6.4" fill="#4b5056"/>
<rect x="1633.5" y="41.8" width="13.5" height="6.4" fill="#4b5056"/>
<rect x="1323" y="102.7" width="13.5" height="6.4" fill="#4b5056"/>
<rect x="1633.5" y="102.7" width="13.5" height="6.4" fill="#4b5056"/>
<rect x="1323" y="163.6" width="13.5" height="6.4" fill="#4b5056"/>
<rect x="1633.5" y="163.6" width="13.5" height="6.4" fill="#4b5056"/>
<rect x="1323" y="224.4" width="13.5" height="6.4" fill="#4b5056"/>
<rect x="1633.5" y="224.4" width="13.5" height="6.4" fill="#4b5056"/>
<rect x="1323" y="285.3" width="13.5" height="6.4" fill="#4b5056"/>
<rect x="1633.5" y="285.3" width="13.5" height="6.4" fill="#4b5056"/>
<rect x="1323" y="346.2" width="13.5" height="6.4" fill="#4b5056"/>
<rect x="1633.5" y="346.2" width="13.5" height="6.4" fill="#4b5056"/>
<rect x="1323" y="407.1" width="13.5" height="6.4" fill="#4b5056"/>
<rect x="1633.5" y="407.1" width="13.5" height="6.4" fill="#4b5056"/>
<rect x="1323" y="468" width="13.5" height="6.4" fill="#4b5056"/>
<rect x="1633.5" y="468" width="13.5" height="6.4" fill="#4b5056"/>
<rect x="1323" y="528.8" width="13.5" height="6.4" fill="#4b5056"/>
<rect x="1633.5" y="528.8" width="13.5" height="6.4" fill="#4b5056"/>
<rect x="1323" y="589.7" width="13.5" height="6.4" fill="#4b5056"/>
<rect x="1633.5" y="589.7" width="13.5" height="6.4" fill="#4b5056"/>
<rect x="1323" y="650.6" width="13.5" height="6.4" fill="#4b5056"/>
<rect x="1633.5" y="650.6" width="13.5" height="6.4" fill="#4b5056"/>
<rect x="1323" y="711.5" width="13.5" height="6.4" fill="#4b5056"/>
<rect x="1633.5" y="711.5" width="13.5" height="6.4" fill="#4b5056"/>
<rect x="1323" y="772.4" width="13.5" height="6.4" fill="#4b5056"/>
<rect x="1633.5" y="772.4" width="13.5" height="6.4" fill="#4b5056"/>
<rect x="1323" y="833.2" width="13.5" height="6.4" fill="#4b5056"/>
<rect x="1633.5" y="833.2" width="13.5" height="6.4" fill="#4b5056"/>
<rect x="1323" y="894.1" width="13.5" height="6.4" fill="#4b5056"/>
<rect x="1633.5" y="894.1" width="13.5" height="6.4" fill="#4b5056"/>
<rect x="1323" y="955" width="13.5" height="6.4" fill="#4b5056"/>
<rect x="1633.5" y="955" width="13.5" height="6.4" fill="#4b5056"/>
<rect x="1323" y="1015.9" width="13.5" height="6.4" fill="#4b5056"/>
<rect x="1633.5" y="1015.9" width="13.5" height="6.4" fill="#4b5056"/>
<rect x="1323" y="1076.8" width="13.5" height="6.4" fill="#4b5056"/>
<rect x="1633.5" y="1076.8" width="13.5" height="6.4" fill="#4b5056"/>
<rect x="1323" y="1137.6" width="13.5" height="6.4" fill="#4b5056"/>
<rect x="1633.5" y="1137.6" width="13.5" height="6.4" fill="#4b5056"/>
<rect x="1323" y="1198.5" width="13.5" height="6.4" fill="#4b5056"/>
<rect x="1633.5" y="1198.5" width="13.5" height="6.4" fill="#4b5056"/>
<rect x="1323" y="1259.4" width="13.5" height="6.4" fill="#4b5056"/>
<rect x="1633.5" y="1259.4" width="13.5" height="6.4" fill="#4b5056"/>
<rect x="1323" y="1320.3" width="13.5" height="6.4" fill="#4b5056"/>
<rect x="1633.5" y="1320.3" width="13.5" height="6.4" fill="#4b5056"/>
<rect x="1323" y="1381.2" width="13.5" height="6.4" fill="#4b5056"/>
<rect x="1633.5" y="1381.2" width="13.5" height="6.4" fill="#4b5056"/>
<rect x="1323" y="1442" width="13.5" height="6.4" fill="#4b5056"/>
<rect x="1633.5" y="1442" width="13.5" height="6.4" fill="#4b5056"/>
<rect x="1323" y="1502.9" width="13.5" height="6.4" fill="#4b5056"/>
<rect x="1633.5" y="1502.9" width="13.5" height="6.4" fill="#4b5056"/>
<rect x="1323" y="1563.8" width="13.5" height="6.4" fill="#4b5056"/>
<rect x="1633.5" y="1563.8" width="13.5" height="6.4" fill="#4b5056"/>
<rect x="1323" y="1624.7" width="13.5" height="6.4" fill="#4b5056"/>
<rect x="1633.5" y="1624.7" width="13.5" height="6.4" fill="#4b5056"/>
<rect x="1480" y="15" width="6" height="16" fill="#262626"/>
<rect x="1480" y="1641.5" width="6" height="16" fill="#262626"/>
<rect x="1443.1" y="40.5" width="17.4" height="9" fill="#ec1c2a"/>
<rect x="1506.9" y="40.5" width="16.8" height="9" fill="#ec1c2a"/>
<rect x="1441.1" y="31" width="10" height="28" rx="1.5" fill="#ec1c2a"/>
<rect x="1515.7" y="31" width="10" height="28" rx="1.5" fill="#ec1c2a"/>
<polygon points="1458.5,30.5 1477.2,30.5 1480.2,35.5 1486.2,35.5 1489.2,30.5 1508.9,30.5 1508.9,59.5 1489.2,59.5 1486.2,54.5 1480.2,54.5 1477.2,59.5 1458.5,59.5" fill="#62c232"/>
<rect x="1480.2" y="29" width="6" height="32" rx="3" fill="#2f4ea6"/>
<rect x="1443.7" y="101.4" width="17.8" height="9" fill="#ec1c2a"/>
<rect x="1506" y="101.4" width="17.7" height="9" fill="#ec1c2a"/>
<rect x="1441.7" y="91.9" width="10" height="28" rx="1.5" fill="#ec1c2a"/>
<rect x="1515.7" y="91.9" width="10" height="28" rx="1.5" fill="#ec1c2a"/>
<polygon points="1459.5,91.4 1477.3,91.4 1480.3,96.4 1487.3,96.4 1490.3,91.4 1508,91.4 1508,120.4 1490.3,120.4 1487.3,115.4 1480.3,115.4 1477.3,120.4 1459.5,120.4" fill="#62c232"/>
<rect x="1480.8" y="89.9" width="6" height="32" rx="3" fill="#2f4ea6"/>
<rect x="1446.7" y="162.3" width="13.8" height="9" fill="#ec1c2a"/>
<rect x="1506.9" y="162.3" width="12.9" height="9" fill="#ec1c2a"/>
<rect x="1444.7" y="152.8" width="10" height="28" rx="1.5" fill="#ec1c2a"/>
<rect x="1511.8" y="152.8" width="10" height="28" rx="1.5" fill="#ec1c2a"/>
<polygon points="1458.5,152.3 1477.2,152.3 1480.2,157.3 1486.2,157.3 1489.2,152.3 1508.9,152.3 1508.9,181.3 1489.2,181.3 1486.2,176.3 1480.2,176.3 1477.2,181.3 1458.5,181.3" fill="#62c232"/>
<rect x="1480.2" y="150.8" width="6" height="32" rx="3" fill="#2f4ea6"/>
<rect x="1446.3" y="223.1" width="14.2" height="9" fill="#ec1c2a"/>
<rect x="1506" y="223.1" width="13.4" height="9" fill="#ec1c2a"/>
<rect x="1444.3" y="213.6" width="10" height="28" rx="1.5" fill="#ec1c2a"/>
<rect x="1511.4" y="213.6" width="10" height="28" rx="1.5" fill="#ec1c2a"/>
<polygon points="1458.5,213.1 1477.2,213.1 1480.2,218.1 1486.2,218.1 1489.2,213.1 1508,213.1 1508,242.1 1489.2,242.1 1486.2,237.1 1480.2,237.1 1477.2,242.1 1458.5,242.1" fill="#62c232"/>
<rect x="1480.2" y="211.6" width="6" height="32" rx="3" fill="#2f4ea6"/>
<rect x="1451.6" y="284" width="13.3" height="9" fill="#ec1c2a"/>
<rect x="1506.9" y="284" width="12.5" height="9" fill="#ec1c2a"/>
<rect x="1449.6" y="274.5" width="10" height="28" rx="1.5" fill="#ec1c2a"/>
<rect x="1511.4" y="274.5" width="10" height="28" rx="1.5" fill="#ec1c2a"/>
<polygon points="1462.9,274 1480.2,274 1483.2,279 1487.2,279 1490.2,274 1508.9,274 1508.9,303 1490.2,303 1487.2,298 1483.2,298 1480.2,303 1462.9,303" fill="#62c232"/>
<rect x="1482.2" y="272.5" width="6" height="32" rx="3" fill="#2f4ea6"/>
<rect x="1446.3" y="344.9" width="18.2" height="9" fill="#ec1c2a"/>
<rect x="1507.9" y="344.9" width="18.8" height="9" fill="#ec1c2a"/>
<rect x="1444.3" y="335.4" width="10" height="28" rx="1.5" fill="#ec1c2a"/>
<rect x="1518.7" y="335.4" width="10" height="28" rx="1.5" fill="#ec1c2a"/>
<polygon points="1462.5,334.9 1479.3,334.9 1482.3,339.9 1489.3,339.9 1492.3,334.9 1509.9,334.9 1509.9,363.9 1492.3,363.9 1489.3,358.9 1482.3,358.9 1479.3,363.9 1462.5,363.9" fill="#62c232"/>
<rect x="1482.8" y="333.4" width="6" height="32" rx="3" fill="#2f4ea6"/>
<rect x="1425.9" y="405.8" width="21.8" height="9" fill="#ec1c2a"/>
<rect x="1507.9" y="405.8" width="23.3" height="9" fill="#ec1c2a"/>
<rect x="1423.9" y="396.3" width="10" height="28" rx="1.5" fill="#ec1c2a"/>
<rect x="1523.2" y="396.3" width="10" height="28" rx="1.5" fill="#ec1c2a"/>
<polygon points="1445.7,395.8 1463.3,395.8 1466.3,400.8 1490.3,400.8 1493.3,395.8 1509.9,395.8 1509.9,424.8 1493.3,424.8 1490.3,419.8 1466.3,419.8 1463.3,424.8 1445.7,424.8" fill="#62c232"/>
<rect x="1475.3" y="394.3" width="6" height="32" rx="3" fill="#2f4ea6"/>
<rect x="1416.6" y="466.7" width="35" height="9" fill="#ec1c2a"/>
<rect x="1518.2" y="466.7" width="36.2" height="9" fill="#ec1c2a"/>
<rect x="1414.6" y="457.2" width="10" height="28" rx="1.5" fill="#ec1c2a"/>
<rect x="1546.4" y="457.2" width="10" height="28" rx="1.5" fill="#ec1c2a"/>
<polygon points="1449.6,456.7 1467.2,456.7 1470.2,461.7 1500.2,461.7 1503.2,456.7 1520.2,456.7 1520.2,485.7 1503.2,485.7 1500.2,480.7 1470.2,480.7 1467.2,485.7 1449.6,485.7" fill="#62c232"/>
<rect x="1482.2" y="455.2" width="6" height="32" rx="3" fill="#2f4ea6"/>
<rect x="1428.9" y="527.5" width="22.7" height="9" fill="#ec1c2a"/>
<rect x="1509.9" y="527.5" width="22.1" height="9" fill="#ec1c2a"/>
<rect x="1426.9" y="518" width="10" height="28" rx="1.5" fill="#ec1c2a"/>
<rect x="1524" y="518" width="10" height="28" rx="1.5" fill="#ec1c2a"/>
<polygon points="1449.6,517.5 1467.2,517.5 1470.2,522.5 1492.2,522.5 1495.2,517.5 1511.9,517.5 1511.9,546.5 1495.2,546.5 1492.2,541.5 1470.2,541.5 1467.2,546.5 1449.6,546.5" fill="#62c232"/>
<rect x="1478.2" y="516" width="6" height="32" rx="3" fill="#2f4ea6"/>
<rect x="1441.7" y="588.4" width="16.8" height="9" fill="#ec1c2a"/>
<rect x="1506.9" y="588.4" width="15.8" height="9" fill="#ec1c2a"/>
<rect x="1439.7" y="578.9" width="10" height="28" rx="1.5" fill="#ec1c2a"/>
<rect x="1514.7" y="578.9" width="10" height="28" rx="1.5" fill="#ec1c2a"/>
<polygon points="1456.5,578.4 1474.6,578.4 1477.6,583.4 1487.6,583.4 1490.6,578.4 1508.9,578.4 1508.9,607.4 1490.6,607.4 1487.6,602.4 1477.6,602.4 1474.6,607.4 1456.5,607.4" fill="#62c232"/>
<rect x="1479.6" y="576.9" width="6" height="32" rx="3" fill="#2f4ea6"/>
<rect x="1441.1" y="649.3" width="19.4" height="9" fill="#ec1c2a"/>
<rect x="1506" y="649.3" width="17.3" height="9" fill="#ec1c2a"/>
<rect x="1439.1" y="639.8" width="10" height="28" rx="1.5" fill="#ec1c2a"/>
<rect x="1515.3" y="639.8" width="10" height="28" rx="1.5" fill="#ec1c2a"/>
<polygon points="1458.5,639.3 1475.7,639.3 1478.7,644.3 1485.7,644.3 1488.7,639.3 1508,639.3 1508,668.3 1488.7,668.3 1485.7,663.3 1478.7,663.3 1475.7,668.3 1458.5,668.3" fill="#62c232"/>
<rect x="1479.2" y="637.8" width="6" height="32" rx="3" fill="#2f4ea6"/>
<rect x="1448.6" y="710.2" width="16.9" height="9" fill="#ec1c2a"/>
<rect x="1514.8" y="710.2" width="14.5" height="9" fill="#ec1c2a"/>
<rect x="1446.6" y="700.7" width="10" height="28" rx="1.5" fill="#ec1c2a"/>
<rect x="1521.3" y="700.7" width="10" height="28" rx="1.5" fill="#ec1c2a"/>
<polygon points="1463.5,700.2 1481.7,700.2 1484.7,705.2 1494.7,705.2 1497.7,700.2 1516.8,700.2 1516.8,729.2 1497.7,729.2 1494.7,724.2 1484.7,724.2 1481.7,729.2 1463.5,729.2" fill="#62c232"/>
<rect x="1486.7" y="698.7" width="6" height="32" rx="3" fill="#2f4ea6"/>
<rect x="1445.7" y="771.1" width="14.8" height="9" fill="#ec1c2a"/>
<rect x="1506" y="771.1" width="12.2" height="9" fill="#ec1c2a"/>
<rect x="1443.7" y="761.6" width="10" height="28" rx="1.5" fill="#ec1c2a"/>
<rect x="1510.2" y="761.6" width="10" height="28" rx="1.5" fill="#ec1c2a"/>
<polygon points="1458.5,761.1 1475.7,761.1 1478.7,766.1 1485.7,766.1 1488.7,761.1 1508,761.1 1508,790.1 1488.7,790.1 1485.7,785.1 1478.7,785.1 1475.7,790.1 1458.5,790.1" fill="#62c232"/>
<rect x="1479.2" y="759.6" width="6" height="32" rx="3" fill="#2f4ea6"/>
<rect x="1450.6" y="831.9" width="14.9" height="9" fill="#ec1c2a"/>
<rect x="1508.9" y="831.9" width="14.4" height="9" fill="#ec1c2a"/>
<rect x="1448.6" y="822.4" width="10" height="28" rx="1.5" fill="#ec1c2a"/>
<rect x="1515.3" y="822.4" width="10" height="28" rx="1.5" fill="#ec1c2a"/>
<polygon points="1463.5,821.9 1481.7,821.9 1484.7,826.9 1489.7,826.9 1492.7,821.9 1510.9,821.9 1510.9,850.9 1492.7,850.9 1489.7,845.9 1484.7,845.9 1481.7,850.9 1463.5,850.9" fill="#62c232"/>
<rect x="1484.2" y="820.4" width="6" height="32" rx="3" fill="#2f4ea6"/>
<rect x="1451.6" y="892.8" width="14.4" height="9" fill="#ec1c2a"/>
<rect x="1509.9" y="892.8" width="15.4" height="9" fill="#ec1c2a"/>
<rect x="1449.6" y="883.3" width="10" height="28" rx="1.5" fill="#ec1c2a"/>
<rect x="1517.3" y="883.3" width="10" height="28" rx="1.5" fill="#ec1c2a"/>
<polygon points="1464,882.8 1482.3,882.8 1485.3,887.8 1490.3,887.8 1493.3,882.8 1511.9,882.8 1511.9,911.8 1493.3,911.8 1490.3,906.8 1485.3,906.8 1482.3,911.8 1464,911.8" fill="#62c232"/>
<rect x="1484.8" y="881.3" width="6" height="32" rx="3" fill="#2f4ea6"/>
<rect x="1443.1" y="953.7" width="17.4" height="9" fill="#ec1c2a"/>
<rect x="1505" y="953.7" width="17.7" height="9" fill="#ec1c2a"/>
<rect x="1441.1" y="944.2" width="10" height="28" rx="1.5" fill="#ec1c2a"/>
<rect x="1514.7" y="944.2" width="10" height="28" rx="1.5" fill="#ec1c2a"/>
<polygon points="1458.5,943.7 1476.2,943.7 1479.2,948.7 1485.2,948.7 1488.2,943.7 1507,943.7 1507,972.7 1488.2,972.7 1485.2,967.7 1479.2,967.7 1476.2,972.7 1458.5,972.7" fill="#62c232"/>
<rect x="1479.2" y="942.2" width="6" height="32" rx="3" fill="#2f4ea6"/>
<rect x="1447.1" y="1014.6" width="13.4" height="9" fill="#ec1c2a"/>
<rect x="1504" y="1014.6" width="10.8" height="9" fill="#ec1c2a"/>
<rect x="1445.1" y="1005.1" width="10" height="28" rx="1.5" fill="#ec1c2a"/>
<rect x="1506.8" y="1005.1" width="10" height="28" rx="1.5" fill="#ec1c2a"/>
<polygon points="1458.5,1004.6 1475.8,1004.6 1478.8,1009.6 1484.8,1009.6 1487.8,1004.6 1506,1004.6 1506,1033.6 1487.8,1033.6 1484.8,1028.6 1478.8,1028.6 1475.8,1033.6 1458.5,1033.6" fill="#62c232"/>
<rect x="1478.8" y="1003.1" width="6" height="32" rx="3" fill="#2f4ea6"/>
<rect x="1443.7" y="1075.5" width="15.8" height="9" fill="#ec1c2a"/>
<rect x="1504" y="1075.5" width="14.8" height="9" fill="#ec1c2a"/>
<rect x="1441.7" y="1066" width="10" height="28" rx="1.5" fill="#ec1c2a"/>
<rect x="1510.8" y="1066" width="10" height="28" rx="1.5" fill="#ec1c2a"/>
<polygon points="1457.5,1065.5 1475.8,1065.5 1478.8,1070.5 1484.8,1070.5 1487.8,1065.5 1506,1065.5 1506,1094.5 1487.8,1094.5 1484.8,1089.5 1478.8,1089.5 1475.8,1094.5 1457.5,1094.5" fill="#62c232"/>
<rect x="1478.8" y="1064" width="6" height="32" rx="3" fill="#2f4ea6"/>
<rect x="1445.7" y="1136.3" width="14.8" height="9" fill="#ec1c2a"/>
<rect x="1506" y="1136.3" width="16.1" height="9" fill="#ec1c2a"/>
<rect x="1443.7" y="1126.8" width="10" height="28" rx="1.5" fill="#ec1c2a"/>
<rect x="1514.1" y="1126.8" width="10" height="28" rx="1.5" fill="#ec1c2a"/>
<polygon points="1458.5,1126.3 1477.2,1126.3 1480.2,1131.3 1486.2,1131.3 1489.2,1126.3 1508,1126.3 1508,1155.3 1489.2,1155.3 1486.2,1150.3 1480.2,1150.3 1477.2,1155.3 1458.5,1155.3" fill="#62c232"/>
<rect x="1480.2" y="1124.8" width="6" height="32" rx="3" fill="#2f4ea6"/>
<rect x="1441.1" y="1197.2" width="14.5" height="9" fill="#ec1c2a"/>
<rect x="1504" y="1197.2" width="14.2" height="9" fill="#ec1c2a"/>
<rect x="1439.1" y="1187.7" width="10" height="28" rx="1.5" fill="#ec1c2a"/>
<rect x="1510.2" y="1187.7" width="10" height="28" rx="1.5" fill="#ec1c2a"/>
<polygon points="1453.6,1187.2 1471.9,1187.2 1474.9,1192.2 1484.9,1192.2 1487.9,1187.2 1506,1187.2 1506,1216.2 1487.9,1216.2 1484.9,1211.2 1474.9,1211.2 1471.9,1216.2 1453.6,1216.2" fill="#62c232"/>
<rect x="1476.9" y="1185.7" width="6" height="32" rx="3" fill="#2f4ea6"/>
<rect x="1438.8" y="1258.1" width="16.2" height="9" fill="#ec1c2a"/>
<rect x="1505" y="1258.1" width="15.2" height="9" fill="#ec1c2a"/>
<rect x="1436.8" y="1248.6" width="10" height="28" rx="1.5" fill="#ec1c2a"/>
<rect x="1512.2" y="1248.6" width="10" height="28" rx="1.5" fill="#ec1c2a"/>
<polygon points="1453,1248.1 1471.4,1248.1 1474.4,1253.1 1485.4,1253.1 1488.4,1248.1 1507,1248.1 1507,1277.1 1488.4,1277.1 1485.4,1272.1 1474.4,1272.1 1471.4,1277.1 1453,1277.1" fill="#62c232"/>
<rect x="1476.9" y="1246.6" width="6" height="32" rx="3" fill="#2f4ea6"/>
<rect x="1442.3" y="1319" width="17.8" height="9" fill="#ec1c2a"/>
<rect x="1506" y="1319" width="17.3" height="9" fill="#ec1c2a"/>
<rect x="1440.3" y="1309.5" width="10" height="28" rx="1.5" fill="#ec1c2a"/>
<rect x="1515.3" y="1309.5" width="10" height="28" rx="1.5" fill="#ec1c2a"/>
<polygon points="1458.1,1309 1476.1,1309 1479.1,1314 1486.1,1314 1489.1,1309 1508,1309 1508,1338 1489.1,1338 1486.1,1333 1479.1,1333 1476.1,1338 1458.1,1338" fill="#62c232"/>
<rect x="1479.6" y="1307.5" width="6" height="32" rx="3" fill="#2f4ea6"/>
<rect x="1443.7" y="1379.9" width="16.8" height="9" fill="#ec1c2a"/>
<rect x="1506.9" y="1379.9" width="15.8" height="9" fill="#ec1c2a"/>
<rect x="1441.7" y="1370.4" width="10" height="28" rx="1.5" fill="#ec1c2a"/>
<rect x="1514.7" y="1370.4" width="10" height="28" rx="1.5" fill="#ec1c2a"/>
<polygon points="1458.5,1369.9 1477.2,1369.9 1480.2,1374.9 1486.2,1374.9 1489.2,1369.9 1508.9,1369.9 1508.9,1398.9 1489.2,1398.9 1486.2,1393.9 1480.2,1393.9 1477.2,1398.9 1458.5,1398.9" fill="#62c232"/>
<rect x="1480.2" y="1368.4" width="6" height="32" rx="3" fill="#2f4ea6"/>
<rect x="1450.2" y="1440.7" width="14.7" height="9" fill="#ec1c2a"/>
<rect x="1506.9" y="1440.7" width="12.5" height="9" fill="#ec1c2a"/>
<rect x="1448.2" y="1431.2" width="10" height="28" rx="1.5" fill="#ec1c2a"/>
<rect x="1511.4" y="1431.2" width="10" height="28" rx="1.5" fill="#ec1c2a"/>
<polygon points="1462.9,1430.7 1480.2,1430.7 1483.2,1435.7 1487.2,1435.7 1490.2,1430.7 1508.9,1430.7 1508.9,1459.7 1490.2,1459.7 1487.2,1454.7 1483.2,1454.7 1480.2,1459.7 1462.9,1459.7" fill="#62c232"/>
<rect x="1482.2" y="1429.2" width="6" height="32" rx="3" fill="#2f4ea6"/>
<rect x="1451.6" y="1501.6" width="13.3" height="9" fill="#ec1c2a"/>
<rect x="1506.9" y="1501.6" width="12.5" height="9" fill="#ec1c2a"/>
<rect x="1449.6" y="1492.1" width="10" height="28" rx="1.5" fill="#ec1c2a"/>
<rect x="1511.4" y="1492.1" width="10" height="28" rx="1.5" fill="#ec1c2a"/>
<polygon points="1462.9,1491.6 1480.2,1491.6 1483.2,1496.6 1487.2,1496.6 1490.2,1491.6 1508.9,1491.6 1508.9,1520.6 1490.2,1520.6 1487.2,1515.6 1483.2,1515.6 1480.2,1520.6 1462.9,1520.6" fill="#62c232"/>
<rect x="1482.2" y="1490.1" width="6" height="32" rx="3" fill="#2f4ea6"/>
<rect x="1450.5" y="1562.5" width="14.7" height="9" fill="#ec1c2a"/>
<rect x="1508.6" y="1562.5" width="14.1" height="9" fill="#ec1c2a"/>
<rect x="1448.5" y="1553" width="10" height="28" rx="1.5" fill="#ec1c2a"/>
<rect x="1514.7" y="1553" width="10" height="28" rx="1.5" fill="#ec1c2a"/>
<polygon points="1463.2,1552.5 1480.5,1552.5 1483.5,1557.5 1489.5,1557.5 1492.5,1552.5 1510.6,1552.5 1510.6,1581.5 1492.5,1581.5 1489.5,1576.5 1483.5,1576.5 1480.5,1581.5 1463.2,1581.5" fill="#62c232"/>
<rect x="1483.5" y="1551" width="6" height="32" rx="3" fill="#2f4ea6"/>
<rect x="1447.9" y="1623.4" width="15.4" height="9" fill="#ec1c2a"/>
<rect x="1506" y="1623.4" width="15.4" height="9" fill="#ec1c2a"/>
<rect x="1445.9" y="1613.9" width="10" height="28" rx="1.5" fill="#ec1c2a"/>
<rect x="1513.4" y="1613.9" width="10" height="28" rx="1.5" fill="#ec1c2a"/>
<polygon points="1461.3,1613.4 1478.8,1613.4 1481.8,1618.4 1486.8,1618.4 1489.8,1613.4 1508,1613.4 1508,1642.4 1489.8,1642.4 1486.8,1637.4 1481.8,1637.4 1478.8,1642.4 1461.3,1642.4" fill="#62c232"/>
<rect x="1481.3" y="1611.9" width="6" height="32" rx="3" fill="#2f4ea6"/>
<rect x="1321" y="14" width="328" height="1644.5" fill="none" stroke="#262626" stroke-width="4.7"/>
<rect x="1780.6" y="14" width="4.6" height="1644.5" fill="#000" fill-opacity="0.135"/>
<rect x="1813.1" y="14" width="4.6" height="1644.5" fill="#000" fill-opacity="0.135"/>
<rect x="1846.1" y="14" width="4.6" height="1644.5" fill="#000" fill-opacity="0.135"/>
<rect x="1878.7" y="14" width="4.6" height="1644.5" fill="#000" fill-opacity="0.135"/>
<rect x="1912" y="14" width="4.6" height="1644.5" fill="#000" fill-opacity="0.135"/>
<rect x="1944.6" y="14" width="4.6" height="1644.5" fill="#000" fill-opacity="0.135"/>
<rect x="1978" y="14" width="4.6" height="1644.5" fill="#000" fill-opacity="0.135"/>
<rect x="2010.8" y="14" width="4.6" height="1644.5" fill="#000" fill-opacity="0.135"/>
<rect x="2044" y="14" width="4.6" height="1644.5" fill="#000" fill-opacity="0.135"/>
<rect x="1771" y="42.1" width="92.3" height="5.8" fill="#000" fill-opacity="0.095"/>
<rect x="1981.5" y="42.1" width="74.5" height="5.8" fill="#000" fill-opacity="0.095"/>
<rect x="1771" y="103" width="100.2" height="5.8" fill="#000" fill-opacity="0.095"/>
<rect x="1951.9" y="103" width="104.1" height="5.8" fill="#000" fill-opacity="0.095"/>
<rect x="1771" y="163.9" width="116" height="5.8" fill="#000" fill-opacity="0.095"/>
<rect x="1988" y="163.9" width="68" height="5.8" fill="#000" fill-opacity="0.095"/>
<rect x="1771" y="224.7" width="112.5" height="5.8" fill="#000" fill-opacity="0.095"/>
<rect x="1951.9" y="224.7" width="104.1" height="5.8" fill="#000" fill-opacity="0.095"/>
<rect x="1771" y="285.6" width="107.5" height="5.8" fill="#000" fill-opacity="0.095"/>
<rect x="1952.4" y="285.6" width="103.6" height="5.8" fill="#000" fill-opacity="0.095"/>
<rect x="1771" y="346.5" width="112.5" height="5.8" fill="#000" fill-opacity="0.095"/>
<rect x="1966.3" y="346.5" width="89.7" height="5.8" fill="#000" fill-opacity="0.095"/>
<rect x="1771" y="407.4" width="112.9" height="5.8" fill="#000" fill-opacity="0.095"/>
<rect x="1961.7" y="407.4" width="94.3" height="5.8" fill="#000" fill-opacity="0.095"/>
<rect x="1771" y="468.3" width="108.1" height="5.8" fill="#000" fill-opacity="0.095"/>
<rect x="1981.5" y="468.3" width="74.5" height="5.8" fill="#000" fill-opacity="0.095"/>
<rect x="1771" y="529.1" width="108.5" height="5.8" fill="#000" fill-opacity="0.095"/>
<rect x="2021.1" y="529.1" width="34.9" height="5.8" fill="#000" fill-opacity="0.095"/>
<rect x="1771" y="590" width="112.9" height="5.8" fill="#000" fill-opacity="0.095"/>
<rect x="1987.4" y="590" width="68.6" height="5.8" fill="#000" fill-opacity="0.095"/>
<rect x="1771" y="650.9" width="112.9" height="5.8" fill="#000" fill-opacity="0.095"/>
<rect x="1994.4" y="650.9" width="61.6" height="5.8" fill="#000" fill-opacity="0.095"/>
<rect x="1771" y="711.8" width="108.5" height="5.8" fill="#000" fill-opacity="0.095"/>
<rect x="2047.7" y="711.8" width="8.3" height="5.8" fill="#000" fill-opacity="0.095"/>
<rect x="1771" y="772.7" width="112.9" height="5.8" fill="#000" fill-opacity="0.095"/>
<rect x="1962.3" y="772.7" width="93.7" height="5.8" fill="#000" fill-opacity="0.095"/>
<rect x="1771" y="833.5" width="112.9" height="5.8" fill="#000" fill-opacity="0.095"/>
<rect x="1968.3" y="833.5" width="87.7" height="5.8" fill="#000" fill-opacity="0.095"/>
<rect x="1771" y="894.4" width="112.5" height="5.8" fill="#000" fill-opacity="0.095"/>
<rect x="1958.4" y="894.4" width="97.6" height="5.8" fill="#000" fill-opacity="0.095"/>
<rect x="1771" y="955.3" width="100.6" height="5.8" fill="#000" fill-opacity="0.095"/>
<rect x="1944" y="955.3" width="112" height="5.8" fill="#000" fill-opacity="0.095"/>
<rect x="1771" y="1016.2" width="108.1" height="5.8" fill="#000" fill-opacity="0.095"/>
<rect x="1947.9" y="1016.2" width="108.1" height="5.8" fill="#000" fill-opacity="0.095"/>
<rect x="1771" y="1077.1" width="110.1" height="5.8" fill="#000" fill-opacity="0.095"/>
<rect x="1954.8" y="1077.1" width="101.2" height="5.8" fill="#000" fill-opacity="0.095"/>
<rect x="1771" y="1137.9" width="31.4" height="5.8" fill="#000" fill-opacity="0.095"/>
<rect x="1945.9" y="1137.9" width="110.1" height="5.8" fill="#000" fill-opacity="0.095"/>
<rect x="1771" y="1198.8" width="67.4" height="5.8" fill="#000" fill-opacity="0.095"/>
<rect x="1951.9" y="1198.8" width="104.1" height="5.8" fill="#000" fill-opacity="0.095"/>
<rect x="1771" y="1259.7" width="112.5" height="5.8" fill="#000" fill-opacity="0.095"/>
<rect x="1986.8" y="1259.7" width="69.2" height="5.8" fill="#000" fill-opacity="0.095"/>
<rect x="1771" y="1320.6" width="73.3" height="5.8" fill="#000" fill-opacity="0.095"/>
<rect x="1947.9" y="1320.6" width="108.1" height="5.8" fill="#000" fill-opacity="0.095"/>
<rect x="1771" y="1381.5" width="108.5" height="5.8" fill="#000" fill-opacity="0.095"/>
<rect x="1993.4" y="1381.5" width="62.6" height="5.8" fill="#000" fill-opacity="0.095"/>
<rect x="1771" y="1442.3" width="92.3" height="5.8" fill="#000" fill-opacity="0.095"/>
<rect x="1950.9" y="1442.3" width="105.1" height="5.8" fill="#000" fill-opacity="0.095"/>
<rect x="1771" y="1503.2" width="87.8" height="5.8" fill="#000" fill-opacity="0.095"/>
<rect x="1946.9" y="1503.2" width="109.1" height="5.8" fill="#000" fill-opacity="0.095"/>
<rect x="1771" y="1564.1" width="113.3" height="5.8" fill="#000" fill-opacity="0.095"/>
<rect x="1992.4" y="1564.1" width="63.6" height="5.8" fill="#000" fill-opacity="0.095"/>
<rect x="1771" y="1625" width="113.3" height="5.8" fill="#000" fill-opacity="0.095"/>
<rect x="1996.3" y="1625" width="59.7" height="5.8" fill="#000" fill-opacity="0.095"/>
<rect x="1752" y="41.8" width="13.5" height="6.4" fill="#4b5056"/>
<rect x="2061.5" y="41.8" width="13.5" height="6.4" fill="#4b5056"/>
<rect x="1752" y="102.7" width="13.5" height="6.4" fill="#4b5056"/>
<rect x="2061.5" y="102.7" width="13.5" height="6.4" fill="#4b5056"/>
<rect x="1752" y="163.6" width="13.5" height="6.4" fill="#4b5056"/>
<rect x="2061.5" y="163.6" width="13.5" height="6.4" fill="#4b5056"/>
<rect x="1752" y="224.4" width="13.5" height="6.4" fill="#4b5056"/>
<rect x="2061.5" y="224.4" width="13.5" height="6.4" fill="#4b5056"/>
<rect x="1752" y="285.3" width="13.5" height="6.4" fill="#4b5056"/>
<rect x="2061.5" y="285.3" width="13.5" height="6.4" fill="#4b5056"/>
<rect x="1752" y="346.2" width="13.5" height="6.4" fill="#4b5056"/>
<rect x="2061.5" y="346.2" width="13.5" height="6.4" fill="#4b5056"/>
<rect x="1752" y="407.1" width="13.5" height="6.4" fill="#4b5056"/>
<rect x="2061.5" y="407.1" width="13.5" height="6.4" fill="#4b5056"/>
<rect x="1752" y="468" width="13.5" height="6.4" fill="#4b5056"/>
<rect x="2061.5" y="468" width="13.5" height="6.4" fill="#4b5056"/>
<rect x="1752" y="528.8" width="13.5" height="6.4" fill="#4b5056"/>
<rect x="2061.5" y="528.8" width="13.5" height="6.4" fill="#4b5056"/>
<rect x="1752" y="589.7" width="13.5" height="6.4" fill="#4b5056"/>
<rect x="2061.5" y="589.7" width="13.5" height="6.4" fill="#4b5056"/>
<rect x="1752" y="650.6" width="13.5" height="6.4" fill="#4b5056"/>
<rect x="2061.5" y="650.6" width="13.5" height="6.4" fill="#4b5056"/>
<rect x="1752" y="711.5" width="13.5" height="6.4" fill="#4b5056"/>
<rect x="2061.5" y="711.5" width="13.5" height="6.4" fill="#4b5056"/>
<rect x="1752" y="772.4" width="13.5" height="6.4" fill="#4b5056"/>
<rect x="2061.5" y="772.4" width="13.5" height="6.4" fill="#4b5056"/>
<rect x="1752" y="833.2" width="13.5" height="6.4" fill="#4b5056"/>
<rect x="2061.5" y="833.2" width="13.5" height="6.4" fill="#4b5056"/>
<rect x="1752" y="894.1" width="13.5" height="6.4" fill="#4b5056"/>
<rect x="2061.5" y="894.1" width="13.5" height="6.4" fill="#4b5056"/>
<rect x="1752" y="955" width="13.5" height="6.4" fill="#4b5056"/>
<rect x="2061.5" y="955" width="13.5" height="6.4" fill="#4b5056"/>
<rect x="1752" y="1015.9" width="13.5" height="6.4" fill="#4b5056"/>
<rect x="2061.5" y="1015.9" width="13.5" height="6.4" fill="#4b5056"/>
<rect x="1752" y="1076.8" width="13.5" height="6.4" fill="#4b5056"/>
<rect x="2061.5" y="1076.8" width="13.5" height="6.4" fill="#4b5056"/>
<rect x="1752" y="1137.6" width="13.5" height="6.4" fill="#4b5056"/>
<rect x="2061.5" y="1137.6" width="13.5" height="6.4" fill="#4b5056"/>
<rect x="1752" y="1198.5" width="13.5" height="6.4" fill="#4b5056"/>
<rect x="2061.5" y="1198.5" width="13.5" height="6.4" fill="#4b5056"/>
<rect x="1752" y="1259.4" width="13.5" height="6.4" fill="#4b5056"/>
<rect x="2061.5" y="1259.4" width="13.5" height="6.4" fill="#4b5056"/>
<rect x="1752" y="1320.3" width="13.5" height="6.4" fill="#4b5056"/>
<rect x="2061.5" y="1320.3" width="13.5" height="6.4" fill="#4b5056"/>
<rect x="1752" y="1381.2" width="13.5" height="6.4" fill="#4b5056"/>
<rect x="2061.5" y="1381.2" width="13.5" height="6.4" fill="#4b5056"/>
<rect x="1752" y="1442" width="13.5" height="6.4" fill="#4b5056"/>
<rect x="2061.5" y="1442" width="13.5" height="6.4" fill="#4b5056"/>
<rect x="1752" y="1502.9" width="13.5" height="6.4" fill="#4b5056"/>
<rect x="2061.5" y="1502.9" width="13.5" height="6.4" fill="#4b5056"/>
<rect x="1752" y="1563.8" width="13.5" height="6.4" fill="#4b5056"/>
<rect x="2061.5" y="1563.8" width="13.5" height="6.4" fill="#4b5056"/>
<rect x="1752" y="1624.7" width="13.5" height="6.4" fill="#4b5056"/>
<rect x="2061.5" y="1624.7" width="13.5" height="6.4" fill="#4b5056"/>
<rect x="1779.9" y="15" width="6" height="16" fill="#262626"/>
<rect x="1779.9" y="1641.5" width="6" height="16" fill="#262626"/>
<rect x="1812.4" y="15" width="6" height="16" fill="#262626"/>
<rect x="1812.4" y="1641.5" width="6" height="16" fill="#262626"/>
<rect x="1845.4" y="15" width="6" height="16" fill="#262626"/>
<rect x="1845.4" y="1641.5" width="6" height="16" fill="#262626"/>
<rect x="1878" y="15" width="6" height="16" fill="#262626"/>
<rect x="1878" y="1641.5" width="6" height="16" fill="#262626"/>
<rect x="1911.3" y="15" width="6" height="16" fill="#262626"/>
<rect x="1911.3" y="1641.5" width="6" height="16" fill="#262626"/>
<rect x="1943.9" y="15" width="6" height="16" fill="#262626"/>
<rect x="1943.9" y="1641.5" width="6" height="16" fill="#262626"/>
<rect x="1977.3" y="15" width="6" height="16" fill="#262626"/>
<rect x="1977.3" y="1641.5" width="6" height="16" fill="#262626"/>
<rect x="2010.1" y="15" width="6" height="16" fill="#262626"/>
<rect x="2010.1" y="1641.5" width="6" height="16" fill="#262626"/>
<rect x="2043.3" y="15" width="6" height="16" fill="#262626"/>
<rect x="2043.3" y="1641.5" width="6" height="16" fill="#262626"/>
<rect x="1872.3" y="40.5" width="19.8" height="9" fill="#ec1c2a"/>
<rect x="1953.7" y="40.5" width="18.8" height="9" fill="#ec1c2a"/>
<rect x="1870.3" y="31" width="10" height="28" rx="1.5" fill="#ec1c2a"/>
<rect x="1964.5" y="31" width="10" height="28" rx="1.5" fill="#ec1c2a"/>
<polygon points="1890.1,30.5 1907.1,30.5 1910.1,35.5 1936.1,35.5 1939.1,30.5 1955.7,30.5 1955.7,59.5 1939.1,59.5 1936.1,54.5 1910.1,54.5 1907.1,59.5 1890.1,59.5" fill="#62c232"/>
<rect x="1920.1" y="29" width="6" height="32" rx="3" fill="#2f4ea6"/>
<rect x="1880.2" y="101.4" width="12.3" height="9" fill="#ec1c2a"/>
<rect x="1932" y="101.4" width="10.9" height="9" fill="#ec1c2a"/>
<rect x="1878.2" y="91.9" width="10" height="28" rx="1.5" fill="#ec1c2a"/>
<rect x="1934.9" y="91.9" width="10" height="28" rx="1.5" fill="#ec1c2a"/>
<rect x="1890.5" y="91.4" width="43.5" height="29" fill="#62c232"/>
<rect x="1908.2" y="89.9" width="6" height="32" rx="3" fill="#2f4ea6"/>
<rect x="1896" y="162.3" width="6.4" height="9" fill="#ec1c2a"/>
<rect x="1972.5" y="162.3" width="6.5" height="9" fill="#ec1c2a"/>
<rect x="1894" y="152.8" width="10" height="28" rx="1.5" fill="#ec1c2a"/>
<rect x="1971" y="152.8" width="10" height="28" rx="1.5" fill="#ec1c2a"/>
<polygon points="1900.4,152.3 1917,152.3 1920,157.3 1954,157.3 1957,152.3 1974.5,152.3 1974.5,181.3 1957,181.3 1954,176.3 1920,176.3 1917,181.3 1900.4,181.3" fill="#62c232"/>
<rect x="1934" y="150.8" width="6" height="32" rx="3" fill="#2f4ea6"/>
<rect x="1892.5" y="223.1" width="6.9" height="9" fill="#ec1c2a"/>
<rect x="1936" y="223.1" width="6.9" height="9" fill="#ec1c2a"/>
<rect x="1890.5" y="213.6" width="10" height="28" rx="1.5" fill="#ec1c2a"/>
<rect x="1934.9" y="213.6" width="10" height="28" rx="1.5" fill="#ec1c2a"/>
<rect x="1897.4" y="213.1" width="40.6" height="29" fill="#62c232"/>
<rect x="1914.2" y="211.6" width="6" height="32" rx="3" fill="#2f4ea6"/>
<rect x="1887.5" y="284" width="8.9" height="9" fill="#ec1c2a"/>
<rect x="1933" y="284" width="10.4" height="9" fill="#ec1c2a"/>
<rect x="1885.5" y="274.5" width="10" height="28" rx="1.5" fill="#ec1c2a"/>
<rect x="1935.4" y="274.5" width="10" height="28" rx="1.5" fill="#ec1c2a"/>
<rect x="1894.4" y="274" width="40.6" height="29" fill="#62c232"/>
<rect x="1911.6" y="272.5" width="6" height="32" rx="3" fill="#2f4ea6"/>
<rect x="1892.5" y="344.9" width="7.5" height="9" fill="#ec1c2a"/>
<rect x="1948.8" y="344.9" width="8.5" height="9" fill="#ec1c2a"/>
<rect x="1890.5" y="335.4" width="10" height="28" rx="1.5" fill="#ec1c2a"/>
<rect x="1949.3" y="335.4" width="10" height="28" rx="1.5" fill="#ec1c2a"/>
<polygon points="1898,334.9 1915.7,334.9 1918.7,339.9 1928.7,339.9 1931.7,334.9 1950.8,334.9 1950.8,363.9 1931.7,363.9 1928.7,358.9 1918.7,358.9 1915.7,363.9 1898,363.9" fill="#62c232"/>
<rect x="1920.7" y="333.4" width="6" height="32" rx="3" fill="#2f4ea6"/>
<rect x="1892.9" y="405.8" width="8.5" height="9" fill="#ec1c2a"/>
<rect x="1943.8" y="405.8" width="8.9" height="9" fill="#ec1c2a"/>
<rect x="1890.9" y="396.3" width="10" height="28" rx="1.5" fill="#ec1c2a"/>
<rect x="1944.7" y="396.3" width="10" height="28" rx="1.5" fill="#ec1c2a"/>
<rect x="1899.4" y="395.8" width="46.4" height="29" fill="#62c232"/>
<rect x="1919.5" y="394.3" width="6" height="32" rx="3" fill="#2f4ea6"/>
<rect x="1888.1" y="466.7" width="12.3" height="9" fill="#ec1c2a"/>
<rect x="1959.7" y="466.7" width="12.8" height="9" fill="#ec1c2a"/>
<rect x="1886.1" y="457.2" width="10" height="28" rx="1.5" fill="#ec1c2a"/>
<rect x="1964.5" y="457.2" width="10" height="28" rx="1.5" fill="#ec1c2a"/>
<polygon points="1898.4,456.7 1916.6,456.7 1919.6,461.7 1939.6,461.7 1942.6,456.7 1961.7,456.7 1961.7,485.7 1942.6,485.7 1939.6,480.7 1919.6,480.7 1916.6,485.7 1898.4,485.7" fill="#62c232"/>
<rect x="1926.6" y="455.2" width="6" height="32" rx="3" fill="#2f4ea6"/>
<rect x="1888.5" y="527.5" width="10.9" height="9" fill="#ec1c2a"/>
<rect x="2002.2" y="527.5" width="9.9" height="9" fill="#ec1c2a"/>
<rect x="1886.5" y="518" width="10" height="28" rx="1.5" fill="#ec1c2a"/>
<rect x="2004.1" y="518" width="10" height="28" rx="1.5" fill="#ec1c2a"/>
<polygon points="1897.4,517.5 1916.2,517.5 1919.2,522.5 1981.2,522.5 1984.2,517.5 2004.2,517.5 2004.2,546.5 1984.2,546.5 1981.2,541.5 1919.2,541.5 1916.2,546.5 1897.4,546.5" fill="#62c232"/>
<rect x="1947.2" y="516" width="6" height="32" rx="3" fill="#2f4ea6"/>
<rect x="1892.9" y="588.4" width="8.5" height="9" fill="#ec1c2a"/>
<rect x="1970.5" y="588.4" width="7.9" height="9" fill="#ec1c2a"/>
<rect x="1890.9" y="578.9" width="10" height="28" rx="1.5" fill="#ec1c2a"/>
<rect x="1970.4" y="578.9" width="10" height="28" rx="1.5" fill="#ec1c2a"/>
<polygon points="1899.4,578.4 1918,578.4 1921,583.4 1951,583.4 1954,578.4 1972.5,578.4 1972.5,607.4 1954,607.4 1951,602.4 1921,602.4 1918,607.4 1899.4,607.4" fill="#62c232"/>
<rect x="1933" y="576.9" width="6" height="32" rx="3" fill="#2f4ea6"/>
<rect x="1892.9" y="649.3" width="8.5" height="9" fill="#ec1c2a"/>
<rect x="1977.8" y="649.3" width="7.6" height="9" fill="#ec1c2a"/>
<rect x="1890.9" y="639.8" width="10" height="28" rx="1.5" fill="#ec1c2a"/>
<rect x="1977.4" y="639.8" width="10" height="28" rx="1.5" fill="#ec1c2a"/>
<polygon points="1899.4,639.3 1917.5,639.3 1920.5,644.3 1958.5,644.3 1961.5,639.3 1979.8,639.3 1979.8,668.3 1961.5,668.3 1958.5,663.3 1920.5,663.3 1917.5,668.3 1899.4,668.3" fill="#62c232"/>
<rect x="1936.5" y="637.8" width="6" height="32" rx="3" fill="#2f4ea6"/>
<rect x="1888.5" y="710.2" width="13.5" height="9" fill="#ec1c2a"/>
<rect x="2024.9" y="710.2" width="13.8" height="9" fill="#ec1c2a"/>
<rect x="1886.5" y="700.7" width="10" height="28" rx="1.5" fill="#ec1c2a"/>
<rect x="2030.7" y="700.7" width="10" height="28" rx="1.5" fill="#ec1c2a"/>
<polygon points="1900,700.2 1917.7,700.2 1920.7,705.2 2004.7,705.2 2007.7,700.2 2026.9,700.2 2026.9,729.2 2007.7,729.2 2004.7,724.2 1920.7,724.2 1917.7,729.2 1900,729.2" fill="#62c232"/>
<rect x="1959.7" y="698.7" width="6" height="32" rx="3" fill="#2f4ea6"/>
<rect x="1892.9" y="771.1" width="8.5" height="9" fill="#ec1c2a"/>
<rect x="1944.8" y="771.1" width="8.5" height="9" fill="#ec1c2a"/>
<rect x="1890.9" y="761.6" width="10" height="28" rx="1.5" fill="#ec1c2a"/>
<rect x="1945.3" y="761.6" width="10" height="28" rx="1.5" fill="#ec1c2a"/>
<rect x="1899.4" y="761.1" width="47.4" height="29" fill="#62c232"/>
<rect x="1919.5" y="759.6" width="6" height="32" rx="3" fill="#2f4ea6"/>
<rect x="1892.9" y="831.9" width="8.5" height="9" fill="#ec1c2a"/>
<rect x="1952.7" y="831.9" width="6.6" height="9" fill="#ec1c2a"/>
<rect x="1890.9" y="822.4" width="10" height="28" rx="1.5" fill="#ec1c2a"/>
<rect x="1951.3" y="822.4" width="10" height="28" rx="1.5" fill="#ec1c2a"/>
<polygon points="1899.4,821.9 1918.6,821.9 1921.6,826.9 1932.6,826.9 1935.6,821.9 1954.7,821.9 1954.7,850.9 1935.6,850.9 1932.6,845.9 1921.6,845.9 1918.6,850.9 1899.4,850.9" fill="#62c232"/>
<rect x="1924.1" y="820.4" width="6" height="32" rx="3" fill="#2f4ea6"/>
<rect x="1892.5" y="892.8" width="5.9" height="9" fill="#ec1c2a"/>
<rect x="1941.5" y="892.8" width="7.9" height="9" fill="#ec1c2a"/>
<rect x="1890.5" y="883.3" width="10" height="28" rx="1.5" fill="#ec1c2a"/>
<rect x="1941.4" y="883.3" width="10" height="28" rx="1.5" fill="#ec1c2a"/>
<rect x="1896.4" y="882.8" width="47.1" height="29" fill="#62c232"/>
<rect x="1916.2" y="881.3" width="6" height="32" rx="3" fill="#2f4ea6"/>
<rect x="1880.6" y="953.7" width="7.9" height="9" fill="#ec1c2a"/>
<rect x="1927.6" y="953.7" width="7.4" height="9" fill="#ec1c2a"/>
<rect x="1878.6" y="944.2" width="10" height="28" rx="1.5" fill="#ec1c2a"/>
<rect x="1927" y="944.2" width="10" height="28" rx="1.5" fill="#ec1c2a"/>
<rect x="1886.5" y="943.7" width="43.1" height="29" fill="#62c232"/>
<rect x="1904.3" y="942.2" width="6" height="32" rx="3" fill="#2f4ea6"/>
<rect x="1888.1" y="1014.6" width="8.7" height="9" fill="#ec1c2a"/>
<rect x="1932" y="1014.6" width="6.9" height="9" fill="#ec1c2a"/>
<rect x="1886.1" y="1005.1" width="10" height="28" rx="1.5" fill="#ec1c2a"/>
<rect x="1930.9" y="1005.1" width="10" height="28" rx="1.5" fill="#ec1c2a"/>
<rect x="1894.8" y="1004.6" width="39.2" height="29" fill="#62c232"/>
<rect x="1910.8" y="1003.1" width="6" height="32" rx="3" fill="#2f4ea6"/>
<rect x="1890.1" y="1075.5" width="8.3" height="9" fill="#ec1c2a"/>
<rect x="1938.3" y="1075.5" width="7.5" height="9" fill="#ec1c2a"/>
<rect x="1888.1" y="1066" width="10" height="28" rx="1.5" fill="#ec1c2a"/>
<rect x="1937.8" y="1066" width="10" height="28" rx="1.5" fill="#ec1c2a"/>
<rect x="1896.4" y="1065.5" width="43.9" height="29" fill="#62c232"/>
<rect x="1915.2" y="1064" width="6" height="32" rx="3" fill="#2f4ea6"/>
<rect x="1811.4" y="1136.3" width="9.9" height="9" fill="#ec1c2a"/>
<rect x="1925.1" y="1136.3" width="11.8" height="9" fill="#ec1c2a"/>
<rect x="1809.4" y="1126.8" width="10" height="28" rx="1.5" fill="#ec1c2a"/>
<rect x="1928.9" y="1126.8" width="10" height="28" rx="1.5" fill="#ec1c2a"/>
<polygon points="1819.3,1126.3 1838.7,1126.3 1841.7,1131.3 1905.7,1131.3 1908.7,1126.3 1927.1,1126.3 1927.1,1155.3 1908.7,1155.3 1905.7,1150.3 1841.7,1150.3 1838.7,1155.3 1819.3,1155.3" fill="#62c232"/>
<rect x="1870.7" y="1124.8" width="6" height="32" rx="3" fill="#2f4ea6"/>
<rect x="1847.4" y="1197.2" width="16.4" height="9" fill="#ec1c2a"/>
<rect x="1925.1" y="1197.2" width="17.8" height="9" fill="#ec1c2a"/>
<rect x="1845.4" y="1187.7" width="10" height="28" rx="1.5" fill="#ec1c2a"/>
<rect x="1934.9" y="1187.7" width="10" height="28" rx="1.5" fill="#ec1c2a"/>
<polygon points="1861.8,1187.2 1879.4,1187.2 1882.4,1192.2 1908.4,1192.2 1911.4,1187.2 1927.1,1187.2 1927.1,1216.2 1911.4,1216.2 1908.4,1211.2 1882.4,1211.2 1879.4,1216.2 1861.8,1216.2" fill="#62c232"/>
<rect x="1892.4" y="1185.7" width="6" height="32" rx="3" fill="#2f4ea6"/>
<rect x="1892.5" y="1258.1" width="8.9" height="9" fill="#ec1c2a"/>
<rect x="1969.2" y="1258.1" width="8.6" height="9" fill="#ec1c2a"/>
<rect x="1890.5" y="1248.6" width="10" height="28" rx="1.5" fill="#ec1c2a"/>
<rect x="1969.8" y="1248.6" width="10" height="28" rx="1.5" fill="#ec1c2a"/>
<polygon points="1899.4,1248.1 1916.4,1248.1 1919.4,1253.1 1949.4,1253.1 1952.4,1248.1 1971.2,1248.1 1971.2,1277.1 1952.4,1277.1 1949.4,1272.1 1919.4,1272.1 1916.4,1277.1 1899.4,1277.1" fill="#62c232"/>
<rect x="1931.4" y="1246.6" width="6" height="32" rx="3" fill="#2f4ea6"/>
<rect x="1853.3" y="1319" width="15.5" height="9" fill="#ec1c2a"/>
<rect x="1926" y="1319" width="12.9" height="9" fill="#ec1c2a"/>
<rect x="1851.3" y="1309.5" width="10" height="28" rx="1.5" fill="#ec1c2a"/>
<rect x="1930.9" y="1309.5" width="10" height="28" rx="1.5" fill="#ec1c2a"/>
<polygon points="1866.8,1309 1883.4,1309 1886.4,1314 1908.4,1314 1911.4,1309 1928,1309 1928,1338 1911.4,1338 1908.4,1333 1886.4,1333 1883.4,1338 1866.8,1338" fill="#62c232"/>
<rect x="1894.4" y="1307.5" width="6" height="32" rx="3" fill="#2f4ea6"/>
<rect x="1888.5" y="1379.9" width="13.5" height="9" fill="#ec1c2a"/>
<rect x="1973.5" y="1379.9" width="10.9" height="9" fill="#ec1c2a"/>
<rect x="1886.5" y="1370.4" width="10" height="28" rx="1.5" fill="#ec1c2a"/>
<rect x="1976.4" y="1370.4" width="10" height="28" rx="1.5" fill="#ec1c2a"/>
<polygon points="1900,1369.9 1918.5,1369.9 1921.5,1374.9 1953.5,1374.9 1956.5,1369.9 1975.5,1369.9 1975.5,1398.9 1956.5,1398.9 1953.5,1393.9 1921.5,1393.9 1918.5,1398.9 1900,1398.9" fill="#62c232"/>
<rect x="1934.5" y="1368.4" width="6" height="32" rx="3" fill="#2f4ea6"/>
<rect x="1872.3" y="1440.7" width="15.2" height="9" fill="#ec1c2a"/>
<rect x="1925.7" y="1440.7" width="16.2" height="9" fill="#ec1c2a"/>
<rect x="1870.3" y="1431.2" width="10" height="28" rx="1.5" fill="#ec1c2a"/>
<rect x="1933.9" y="1431.2" width="10" height="28" rx="1.5" fill="#ec1c2a"/>
<rect x="1885.5" y="1430.7" width="42.2" height="29" fill="#62c232"/>
<rect x="1903.3" y="1429.2" width="6" height="32" rx="3" fill="#2f4ea6"/>
<rect x="1867.8" y="1501.6" width="12.8" height="9" fill="#ec1c2a"/>
<rect x="1926" y="1501.6" width="11.9" height="9" fill="#ec1c2a"/>
<rect x="1865.8" y="1492.1" width="10" height="28" rx="1.5" fill="#ec1c2a"/>
<rect x="1929.9" y="1492.1" width="10" height="28" rx="1.5" fill="#ec1c2a"/>
<polygon points="1878.6,1491.6 1894.7,1491.6 1897.7,1496.6 1907.7,1496.6 1910.7,1491.6 1928,1491.6 1928,1520.6 1910.7,1520.6 1907.7,1515.6 1897.7,1515.6 1894.7,1520.6 1878.6,1520.6" fill="#62c232"/>
<rect x="1899.7" y="1490.1" width="6" height="32" rx="3" fill="#2f4ea6"/>
<rect x="1893.3" y="1562.5" width="8.3" height="9" fill="#ec1c2a"/>
<rect x="1975.8" y="1562.5" width="7.6" height="9" fill="#ec1c2a"/>
<rect x="1891.3" y="1553" width="10" height="28" rx="1.5" fill="#ec1c2a"/>
<rect x="1975.4" y="1553" width="10" height="28" rx="1.5" fill="#ec1c2a"/>
<polygon points="1899.6,1552.5 1917.3,1552.5 1920.3,1557.5 1958.3,1557.5 1961.3,1552.5 1977.8,1552.5 1977.8,1581.5 1961.3,1581.5 1958.3,1576.5 1920.3,1576.5 1917.3,1581.5 1899.6,1581.5" fill="#62c232"/>
<rect x="1936.3" y="1551" width="6" height="32" rx="3" fill="#2f4ea6"/>
<rect x="1893.3" y="1623.4" width="8.3" height="9" fill="#ec1c2a"/>
<rect x="1979.6" y="1623.4" width="7.7" height="9" fill="#ec1c2a"/>
<rect x="1891.3" y="1613.9" width="10" height="28" rx="1.5" fill="#ec1c2a"/>
<rect x="1979.3" y="1613.9" width="10" height="28" rx="1.5" fill="#ec1c2a"/>
<polygon points="1899.6,1613.4 1917.9,1613.4 1920.9,1618.4 1960.9,1618.4 1963.9,1613.4 1981.6,1613.4 1981.6,1642.4 1963.9,1642.4 1960.9,1637.4 1920.9,1637.4 1917.9,1642.4 1899.6,1642.4" fill="#62c232"/>
<rect x="1937.9" y="1611.9" width="6" height="32" rx="3" fill="#2f4ea6"/>
<rect x="1750" y="14" width="327" height="1644.5" fill="none" stroke="#262626" stroke-width="4.7"/>
<rect x="2344" y="14" width="4.6" height="1644.5" fill="#000" fill-opacity="0.135"/>
<rect x="2205.5" y="42.1" width="116" height="5.8" fill="#000" fill-opacity="0.095"/>
<rect x="2417.6" y="42.1" width="68.9" height="5.8" fill="#000" fill-opacity="0.095"/>
<rect x="2205.5" y="103" width="106.1" height="5.8" fill="#000" fill-opacity="0.095"/>
<rect x="2420.9" y="103" width="65.6" height="5.8" fill="#000" fill-opacity="0.095"/>
<rect x="2205.5" y="163.9" width="123.5" height="5.8" fill="#000" fill-opacity="0.095"/>
<rect x="2410.6" y="163.9" width="75.9" height="5.8" fill="#000" fill-opacity="0.095"/>
<rect x="2205.5" y="224.7" width="103.2" height="5.8" fill="#000" fill-opacity="0.095"/>
<rect x="2398.4" y="224.7" width="88.1" height="5.8" fill="#000" fill-opacity="0.095"/>
<rect x="2205.5" y="285.6" width="101.2" height="5.8" fill="#000" fill-opacity="0.095"/>
<rect x="2405.1" y="285.6" width="81.4" height="5.8" fill="#000" fill-opacity="0.095"/>
<rect x="2205.5" y="346.5" width="89.9" height="5.8" fill="#000" fill-opacity="0.095"/>
<rect x="2395.8" y="346.5" width="90.7" height="5.8" fill="#000" fill-opacity="0.095"/>
<rect x="2205.5" y="407.4" width="97.8" height="5.8" fill="#000" fill-opacity="0.095"/>
<rect x="2388.5" y="407.4" width="98" height="5.8" fill="#000" fill-opacity="0.095"/>
<rect x="2205.5" y="468.3" width="109.1" height="5.8" fill="#000" fill-opacity="0.095"/>
<rect x="2403.7" y="468.3" width="82.8" height="5.8" fill="#000" fill-opacity="0.095"/>
<rect x="2205.5" y="529.1" width="140.7" height="5.8" fill="#000" fill-opacity="0.095"/>
<rect x="2441.3" y="529.1" width="45.2" height="5.8" fill="#000" fill-opacity="0.095"/>
<rect x="2205.5" y="590" width="114" height="5.8" fill="#000" fill-opacity="0.095"/>
<rect x="2413.6" y="590" width="72.9" height="5.8" fill="#000" fill-opacity="0.095"/>
<rect x="2205.5" y="650.9" width="118.4" height="5.8" fill="#000" fill-opacity="0.095"/>
<rect x="2419.5" y="650.9" width="67" height="5.8" fill="#000" fill-opacity="0.095"/>
<rect x="2205.5" y="711.8" width="155.2" height="5.8" fill="#000" fill-opacity="0.095"/>
<rect x="2469" y="711.8" width="17.5" height="5.8" fill="#000" fill-opacity="0.095"/>
<rect x="2205.5" y="772.7" width="97.2" height="5.8" fill="#000" fill-opacity="0.095"/>
<rect x="2393.8" y="772.7" width="92.7" height="5.8" fill="#000" fill-opacity="0.095"/>
<rect x="2205.5" y="833.5" width="91.9" height="5.8" fill="#000" fill-opacity="0.095"/>
<rect x="2393.8" y="833.5" width="92.7" height="5.8" fill="#000" fill-opacity="0.095"/>
<rect x="2205.5" y="894.4" width="93.3" height="5.8" fill="#000" fill-opacity="0.095"/>
<rect x="2393.2" y="894.4" width="93.3" height="5.8" fill="#000" fill-opacity="0.095"/>
<rect x="2205.5" y="955.3" width="122.9" height="5.8" fill="#000" fill-opacity="0.095"/>
<rect x="2412.6" y="955.3" width="73.9" height="5.8" fill="#000" fill-opacity="0.095"/>
<rect x="2205.5" y="1016.2" width="111.1" height="5.8" fill="#000" fill-opacity="0.095"/>
<rect x="2403.7" y="1016.2" width="82.8" height="5.8" fill="#000" fill-opacity="0.095"/>
<rect x="2205.5" y="1077.1" width="100.6" height="5.8" fill="#000" fill-opacity="0.095"/>
<rect x="2399.8" y="1077.1" width="86.7" height="5.8" fill="#000" fill-opacity="0.095"/>
<rect x="2205.5" y="1137.9" width="178.3" height="5.8" fill="#000" fill-opacity="0.095"/>
<rect x="2469" y="1137.9" width="17.5" height="5.8" fill="#000" fill-opacity="0.095"/>
<rect x="2205.5" y="1198.8" width="128.3" height="5.8" fill="#000" fill-opacity="0.095"/>
<rect x="2448.2" y="1198.8" width="38.3" height="5.8" fill="#000" fill-opacity="0.095"/>
<rect x="2205.5" y="1259.7" width="114" height="5.8" fill="#000" fill-opacity="0.095"/>
<rect x="2413.6" y="1259.7" width="72.9" height="5.8" fill="#000" fill-opacity="0.095"/>
<rect x="2205.5" y="1320.6" width="131.8" height="5.8" fill="#000" fill-opacity="0.095"/>
<rect x="2438.3" y="1320.6" width="48.2" height="5.8" fill="#000" fill-opacity="0.095"/>
<rect x="2205.5" y="1381.5" width="114" height="5.8" fill="#000" fill-opacity="0.095"/>
<rect x="2419.5" y="1381.5" width="67" height="5.8" fill="#000" fill-opacity="0.095"/>
<rect x="2205.5" y="1442.3" width="119" height="5.8" fill="#000" fill-opacity="0.095"/>
<rect x="2418.2" y="1442.3" width="68.3" height="5.8" fill="#000" fill-opacity="0.095"/>
<rect x="2205.5" y="1503.2" width="124.9" height="5.8" fill="#000" fill-opacity="0.095"/>
<rect x="2424.1" y="1503.2" width="62.4" height="5.8" fill="#000" fill-opacity="0.095"/>
<rect x="2205.5" y="1564.1" width="119.4" height="5.8" fill="#000" fill-opacity="0.095"/>
<rect x="2419" y="1564.1" width="67.5" height="5.8" fill="#000" fill-opacity="0.095"/>
<rect x="2205.5" y="1625" width="123.9" height="5.8" fill="#000" fill-opacity="0.095"/>
<rect x="2419" y="1625" width="67.5" height="5.8" fill="#000" fill-opacity="0.095"/>
<rect x="2186.5" y="41.8" width="13.5" height="6.4" fill="#4b5056"/>
<rect x="2492" y="41.8" width="13.5" height="6.4" fill="#4b5056"/>
<rect x="2186.5" y="102.7" width="13.5" height="6.4" fill="#4b5056"/>
<rect x="2492" y="102.7" width="13.5" height="6.4" fill="#4b5056"/>
<rect x="2186.5" y="163.6" width="13.5" height="6.4" fill="#4b5056"/>
<rect x="2492" y="163.6" width="13.5" height="6.4" fill="#4b5056"/>
<rect x="2186.5" y="224.4" width="13.5" height="6.4" fill="#4b5056"/>
<rect x="2492" y="224.4" width="13.5" height="6.4" fill="#4b5056"/>
<rect x="2186.5" y="285.3" width="13.5" height="6.4" fill="#4b5056"/>
<rect x="2492" y="285.3" width="13.5" height="6.4" fill="#4b5056"/>
<rect x="2186.5" y="346.2" width="13.5" height="6.4" fill="#4b5056"/>
<rect x="2492" y="346.2" width="13.5" height="6.4" fill="#4b5056"/>
<rect x="2186.5" y="407.1" width="13.5" height="6.4" fill="#4b5056"/>
<rect x="2492" y="407.1" width="13.5" height="6.4" fill="#4b5056"/>
<rect x="2186.5" y="468" width="13.5" height="6.4" fill="#4b5056"/>
<rect x="2492" y="468" width="13.5" height="6.4" fill="#4b5056"/>
<rect x="2186.5" y="528.8" width="13.5" height="6.4" fill="#4b5056"/>
<rect x="2492" y="528.8" width="13.5" height="6.4" fill="#4b5056"/>
<rect x="2186.5" y="589.7" width="13.5" height="6.4" fill="#4b5056"/>
<rect x="2492" y="589.7" width="13.5" height="6.4" fill="#4b5056"/>
<rect x="2186.5" y="650.6" width="13.5" height="6.4" fill="#4b5056"/>
<rect x="2492" y="650.6" width="13.5" height="6.4" fill="#4b5056"/>
<rect x="2186.5" y="711.5" width="13.5" height="6.4" fill="#4b5056"/>
<rect x="2492" y="711.5" width="13.5" height="6.4" fill="#4b5056"/>
<rect x="2186.5" y="772.4" width="13.5" height="6.4" fill="#4b5056"/>
<rect x="2492" y="772.4" width="13.5" height="6.4" fill="#4b5056"/>
<rect x="2186.5" y="833.2" width="13.5" height="6.4" fill="#4b5056"/>
<rect x="2492" y="833.2" width="13.5" height="6.4" fill="#4b5056"/>
<rect x="2186.5" y="894.1" width="13.5" height="6.4" fill="#4b5056"/>
<rect x="2492" y="894.1" width="13.5" height="6.4" fill="#4b5056"/>
<rect x="2186.5" y="955" width="13.5" height="6.4" fill="#4b5056"/>
<rect x="2492" y="955" width="13.5" height="6.4" fill="#4b5056"/>
<rect x="2186.5" y="1015.9" width="13.5" height="6.4" fill="#4b5056"/>
<rect x="2492" y="1015.9" width="13.5" height="6.4" fill="#4b5056"/>
<rect x="2186.5" y="1076.8" width="13.5" height="6.4" fill="#4b5056"/>
<rect x="2492" y="1076.8" width="13.5" height="6.4" fill="#4b5056"/>
<rect x="2186.5" y="1137.6" width="13.5" height="6.4" fill="#4b5056"/>
<rect x="2492" y="1137.6" width="13.5" height="6.4" fill="#4b5056"/>
<rect x="2186.5" y="1198.5" width="13.5" height="6.4" fill="#4b5056"/>
<rect x="2492" y="1198.5" width="13.5" height="6.4" fill="#4b5056"/>
<rect x="2186.5" y="1259.4" width="13.5" height="6.4" fill="#4b5056"/>
<rect x="2492" y="1259.4" width="13.5" height="6.4" fill="#4b5056"/>
<rect x="2186.5" y="1320.3" width="13.5" height="6.4" fill="#4b5056"/>
<rect x="2492" y="1320.3" width="13.5" height="6.4" fill="#4b5056"/>
<rect x="2186.5" y="1381.2" width="13.5" height="6.4" fill="#4b5056"/>
<rect x="2492" y="1381.2" width="13.5" height="6.4" fill="#4b5056"/>
<rect x="2186.5" y="1442" width="13.5" height="6.4" fill="#4b5056"/>
<rect x="2492" y="1442" width="13.5" height="6.4" fill="#4b5056"/>
<rect x="2186.5" y="1502.9" width="13.5" height="6.4" fill="#4b5056"/>
<rect x="2492" y="1502.9" width="13.5" height="6.4" fill="#4b5056"/>
<rect x="2186.5" y="1563.8" width="13.5" height="6.4" fill="#4b5056"/>
<rect x="2492" y="1563.8" width="13.5" height="6.4" fill="#4b5056"/>
<rect x="2186.5" y="1624.7" width="13.5" height="6.4" fill="#4b5056"/>
<rect x="2492" y="1624.7" width="13.5" height="6.4" fill="#4b5056"/>
<rect x="2343.3" y="15" width="6" height="16" fill="#262626"/>
<rect x="2343.3" y="1641.5" width="6" height="16" fill="#262626"/>
<rect x="2330.5" y="40.5" width="14.2" height="9" fill="#ec1c2a"/>
<rect x="2394.7" y="40.5" width="13.9" height="9" fill="#ec1c2a"/>
<rect x="2328.5" y="31" width="10" height="28" rx="1.5" fill="#ec1c2a"/>
<rect x="2400.6" y="31" width="10" height="28" rx="1.5" fill="#ec1c2a"/>
<polygon points="2342.7,30.5 2360,30.5 2363,35.5 2375,35.5 2378,30.5 2396.7,30.5 2396.7,59.5 2378,59.5 2375,54.5 2363,54.5 2360,59.5 2342.7,59.5" fill="#62c232"/>
<rect x="2366" y="29" width="6" height="32" rx="3" fill="#2f4ea6"/>
<rect x="2320.6" y="101.4" width="17.8" height="9" fill="#ec1c2a"/>
<rect x="2394.7" y="101.4" width="17.2" height="9" fill="#ec1c2a"/>
<rect x="2318.6" y="91.9" width="10" height="28" rx="1.5" fill="#ec1c2a"/>
<rect x="2403.9" y="91.9" width="10" height="28" rx="1.5" fill="#ec1c2a"/>
<polygon points="2336.4,91.4 2354.5,91.4 2357.5,96.4 2375.5,96.4 2378.5,91.4 2396.7,91.4 2396.7,120.4 2378.5,120.4 2375.5,115.4 2357.5,115.4 2354.5,120.4 2336.4,120.4" fill="#62c232"/>
<rect x="2363.5" y="89.9" width="6" height="32" rx="3" fill="#2f4ea6"/>
<rect x="2338" y="162.3" width="9.3" height="9" fill="#ec1c2a"/>
<rect x="2391.8" y="162.3" width="9.8" height="9" fill="#ec1c2a"/>
<rect x="2336" y="152.8" width="10" height="28" rx="1.5" fill="#ec1c2a"/>
<rect x="2393.6" y="152.8" width="10" height="28" rx="1.5" fill="#ec1c2a"/>
<polygon points="2345.3,152.3 2363.6,152.3 2366.6,157.3 2372.6,157.3 2375.6,152.3 2393.8,152.3 2393.8,181.3 2375.6,181.3 2372.6,176.3 2366.6,176.3 2363.6,181.3 2345.3,181.3" fill="#62c232"/>
<rect x="2366.6" y="150.8" width="6" height="32" rx="3" fill="#2f4ea6"/>
<rect x="2317.7" y="223.1" width="11.8" height="9" fill="#ec1c2a"/>
<rect x="2376.9" y="223.1" width="12.5" height="9" fill="#ec1c2a"/>
<rect x="2315.7" y="213.6" width="10" height="28" rx="1.5" fill="#ec1c2a"/>
<rect x="2381.4" y="213.6" width="10" height="28" rx="1.5" fill="#ec1c2a"/>
<polygon points="2327.5,213.1 2346.1,213.1 2349.1,218.1 2356.1,218.1 2359.1,213.1 2378.9,213.1 2378.9,242.1 2359.1,242.1 2356.1,237.1 2349.1,237.1 2346.1,242.1 2327.5,242.1" fill="#62c232"/>
<rect x="2349.6" y="211.6" width="6" height="32" rx="3" fill="#2f4ea6"/>
<rect x="2315.7" y="284" width="13.8" height="9" fill="#ec1c2a"/>
<rect x="2382.3" y="284" width="13.8" height="9" fill="#ec1c2a"/>
<rect x="2313.7" y="274.5" width="10" height="28" rx="1.5" fill="#ec1c2a"/>
<rect x="2388.1" y="274.5" width="10" height="28" rx="1.5" fill="#ec1c2a"/>
<polygon points="2327.5,274 2346.3,274 2349.3,279 2362.3,279 2365.3,274 2384.3,274 2384.3,303 2365.3,303 2362.3,298 2349.3,298 2346.3,303 2327.5,303" fill="#62c232"/>
<rect x="2352.8" y="272.5" width="6" height="32" rx="3" fill="#2f4ea6"/>
<rect x="2304.4" y="344.9" width="15.8" height="9" fill="#ec1c2a"/>
<rect x="2373" y="344.9" width="13.8" height="9" fill="#ec1c2a"/>
<rect x="2302.4" y="335.4" width="10" height="28" rx="1.5" fill="#ec1c2a"/>
<rect x="2378.8" y="335.4" width="10" height="28" rx="1.5" fill="#ec1c2a"/>
<polygon points="2318.2,334.9 2335.4,334.9 2338.4,339.9 2353.4,339.9 2356.4,334.9 2375,334.9 2375,363.9 2356.4,363.9 2353.4,358.9 2338.4,358.9 2335.4,363.9 2318.2,363.9" fill="#62c232"/>
<rect x="2342.9" y="333.4" width="6" height="32" rx="3" fill="#2f4ea6"/>
<rect x="2312.3" y="405.8" width="11.3" height="9" fill="#ec1c2a"/>
<rect x="2369.6" y="405.8" width="9.9" height="9" fill="#ec1c2a"/>
<rect x="2310.3" y="396.3" width="10" height="28" rx="1.5" fill="#ec1c2a"/>
<rect x="2371.5" y="396.3" width="10" height="28" rx="1.5" fill="#ec1c2a"/>
<polygon points="2321.6,395.8 2340.4,395.8 2343.4,400.8 2348.4,400.8 2351.4,395.8 2371.6,395.8 2371.6,424.8 2351.4,424.8 2348.4,419.8 2343.4,419.8 2340.4,424.8 2321.6,424.8" fill="#62c232"/>
<rect x="2342.9" y="394.3" width="6" height="32" rx="3" fill="#2f4ea6"/>
<rect x="2323.6" y="466.7" width="11.9" height="9" fill="#ec1c2a"/>
<rect x="2383.5" y="466.7" width="11.2" height="9" fill="#ec1c2a"/>
<rect x="2321.6" y="457.2" width="10" height="28" rx="1.5" fill="#ec1c2a"/>
<rect x="2386.7" y="457.2" width="10" height="28" rx="1.5" fill="#ec1c2a"/>
<polygon points="2333.5,456.7 2352.7,456.7 2355.7,461.7 2363.7,461.7 2366.7,456.7 2385.5,456.7 2385.5,485.7 2366.7,485.7 2363.7,480.7 2355.7,480.7 2352.7,485.7 2333.5,485.7" fill="#62c232"/>
<rect x="2356.7" y="455.2" width="6" height="32" rx="3" fill="#2f4ea6"/>
<rect x="2355.2" y="527.5" width="12.9" height="9" fill="#ec1c2a"/>
<rect x="2418.4" y="527.5" width="13.9" height="9" fill="#ec1c2a"/>
<rect x="2353.2" y="518" width="10" height="28" rx="1.5" fill="#ec1c2a"/>
<rect x="2424.3" y="518" width="10" height="28" rx="1.5" fill="#ec1c2a"/>
<polygon points="2366.1,517.5 2386.3,517.5 2389.3,522.5 2398.3,522.5 2401.3,517.5 2420.4,517.5 2420.4,546.5 2401.3,546.5 2398.3,541.5 2389.3,541.5 2386.3,546.5 2366.1,546.5" fill="#62c232"/>
<rect x="2390.8" y="516" width="6" height="32" rx="3" fill="#2f4ea6"/>
<rect x="2328.5" y="588.4" width="12.9" height="9" fill="#ec1c2a"/>
<rect x="2390.8" y="588.4" width="13.8" height="9" fill="#ec1c2a"/>
<rect x="2326.5" y="578.9" width="10" height="28" rx="1.5" fill="#ec1c2a"/>
<rect x="2396.6" y="578.9" width="10" height="28" rx="1.5" fill="#ec1c2a"/>
<polygon points="2339.4,578.4 2357.1,578.4 2360.1,583.4 2370.1,583.4 2373.1,578.4 2392.8,578.4 2392.8,607.4 2373.1,607.4 2370.1,602.4 2360.1,602.4 2357.1,607.4 2339.4,607.4" fill="#62c232"/>
<rect x="2362.1" y="576.9" width="6" height="32" rx="3" fill="#2f4ea6"/>
<rect x="2332.9" y="649.3" width="13.4" height="9" fill="#ec1c2a"/>
<rect x="2396.7" y="649.3" width="13.8" height="9" fill="#ec1c2a"/>
<rect x="2330.9" y="639.8" width="10" height="28" rx="1.5" fill="#ec1c2a"/>
<rect x="2402.5" y="639.8" width="10" height="28" rx="1.5" fill="#ec1c2a"/>
<polygon points="2344.3,639.3 2362,639.3 2365,644.3 2379,644.3 2382,639.3 2398.7,639.3 2398.7,668.3 2382,668.3 2379,663.3 2365,663.3 2362,668.3 2344.3,668.3" fill="#62c232"/>
<rect x="2369" y="637.8" width="6" height="32" rx="3" fill="#2f4ea6"/>
<rect x="2369.7" y="710.2" width="15.8" height="9" fill="#ec1c2a"/>
<rect x="2442.2" y="710.2" width="17.8" height="9" fill="#ec1c2a"/>
<rect x="2367.7" y="700.7" width="10" height="28" rx="1.5" fill="#ec1c2a"/>
<rect x="2452" y="700.7" width="10" height="28" rx="1.5" fill="#ec1c2a"/>
<polygon points="2383.5,700.2 2401.6,700.2 2404.6,705.2 2421.6,705.2 2424.6,700.2 2444.2,700.2 2444.2,729.2 2424.6,729.2 2421.6,724.2 2404.6,724.2 2401.6,729.2 2383.5,729.2" fill="#62c232"/>
<rect x="2410.1" y="698.7" width="6" height="32" rx="3" fill="#2f4ea6"/>
<rect x="2311.7" y="771.1" width="12.5" height="9" fill="#ec1c2a"/>
<rect x="2373" y="771.1" width="11.8" height="9" fill="#ec1c2a"/>
<rect x="2309.7" y="761.6" width="10" height="28" rx="1.5" fill="#ec1c2a"/>
<rect x="2376.8" y="761.6" width="10" height="28" rx="1.5" fill="#ec1c2a"/>
<polygon points="2322.2,761.1 2340.9,761.1 2343.9,766.1 2351.9,766.1 2354.9,761.1 2375,761.1 2375,790.1 2354.9,790.1 2351.9,785.1 2343.9,785.1 2340.9,790.1 2322.2,790.1" fill="#62c232"/>
<rect x="2344.9" y="759.6" width="6" height="32" rx="3" fill="#2f4ea6"/>
<rect x="2306.4" y="831.9" width="13.8" height="9" fill="#ec1c2a"/>
<rect x="2371" y="831.9" width="13.8" height="9" fill="#ec1c2a"/>
<rect x="2304.4" y="822.4" width="10" height="28" rx="1.5" fill="#ec1c2a"/>
<rect x="2376.8" y="822.4" width="10" height="28" rx="1.5" fill="#ec1c2a"/>
<polygon points="2318.2,821.9 2336.4,821.9 2339.4,826.9 2352.4,826.9 2355.4,821.9 2373,821.9 2373,850.9 2355.4,850.9 2352.4,845.9 2339.4,845.9 2336.4,850.9 2318.2,850.9" fill="#62c232"/>
<rect x="2342.9" y="820.4" width="6" height="32" rx="3" fill="#2f4ea6"/>
<rect x="2307.8" y="892.8" width="12.8" height="9" fill="#ec1c2a"/>
<rect x="2371" y="892.8" width="13.2" height="9" fill="#ec1c2a"/>
<rect x="2305.8" y="883.3" width="10" height="28" rx="1.5" fill="#ec1c2a"/>
<rect x="2376.2" y="883.3" width="10" height="28" rx="1.5" fill="#ec1c2a"/>
<polygon points="2318.6,882.8 2336.4,882.8 2339.4,887.8 2352.4,887.8 2355.4,882.8 2373,882.8 2373,911.8 2355.4,911.8 2352.4,906.8 2339.4,906.8 2336.4,911.8 2318.6,911.8" fill="#62c232"/>
<rect x="2342.9" y="881.3" width="6" height="32" rx="3" fill="#2f4ea6"/>
<rect x="2337.4" y="953.7" width="8.9" height="9" fill="#ec1c2a"/>
<rect x="2392.1" y="953.7" width="11.5" height="9" fill="#ec1c2a"/>
<rect x="2335.4" y="944.2" width="10" height="28" rx="1.5" fill="#ec1c2a"/>
<rect x="2395.6" y="944.2" width="10" height="28" rx="1.5" fill="#ec1c2a"/>
<polygon points="2344.3,943.7 2363,943.7 2366,948.7 2372,948.7 2375,943.7 2394.1,943.7 2394.1,972.7 2375,972.7 2372,967.7 2366,967.7 2363,972.7 2344.3,972.7" fill="#62c232"/>
<rect x="2366" y="942.2" width="6" height="32" rx="3" fill="#2f4ea6"/>
<rect x="2325.6" y="1014.6" width="11.2" height="9" fill="#ec1c2a"/>
<rect x="2383.5" y="1014.6" width="11.2" height="9" fill="#ec1c2a"/>
<rect x="2323.6" y="1005.1" width="10" height="28" rx="1.5" fill="#ec1c2a"/>
<rect x="2386.7" y="1005.1" width="10" height="28" rx="1.5" fill="#ec1c2a"/>
<polygon points="2334.8,1004.6 2353.2,1004.6 2356.2,1009.6 2363.2,1009.6 2366.2,1004.6 2385.5,1004.6 2385.5,1033.6 2366.2,1033.6 2363.2,1028.6 2356.2,1028.6 2353.2,1033.6 2334.8,1033.6" fill="#62c232"/>
<rect x="2356.7" y="1003.1" width="6" height="32" rx="3" fill="#2f4ea6"/>
<rect x="2315.1" y="1075.5" width="13.4" height="9" fill="#ec1c2a"/>
<rect x="2376.9" y="1075.5" width="13.9" height="9" fill="#ec1c2a"/>
<rect x="2313.1" y="1066" width="10" height="28" rx="1.5" fill="#ec1c2a"/>
<rect x="2382.8" y="1066" width="10" height="28" rx="1.5" fill="#ec1c2a"/>
<polygon points="2326.5,1065.5 2344.7,1065.5 2347.7,1070.5 2356.7,1070.5 2359.7,1065.5 2378.9,1065.5 2378.9,1094.5 2359.7,1094.5 2356.7,1089.5 2347.7,1089.5 2344.7,1094.5 2326.5,1094.5" fill="#62c232"/>
<rect x="2349.2" y="1064" width="6" height="32" rx="3" fill="#2f4ea6"/>
<rect x="2392.8" y="1136.3" width="9.9" height="9" fill="#ec1c2a"/>
<rect x="2449.1" y="1136.3" width="10.9" height="9" fill="#ec1c2a"/>
<rect x="2390.8" y="1126.8" width="10" height="28" rx="1.5" fill="#ec1c2a"/>
<rect x="2452" y="1126.8" width="10" height="28" rx="1.5" fill="#ec1c2a"/>
<polygon points="2400.7,1126.3 2419.9,1126.3 2422.9,1131.3 2427.9,1131.3 2430.9,1126.3 2451.1,1126.3 2451.1,1155.3 2430.9,1155.3 2427.9,1150.3 2422.9,1150.3 2419.9,1155.3 2400.7,1155.3" fill="#62c232"/>
<rect x="2422.4" y="1124.8" width="6" height="32" rx="3" fill="#2f4ea6"/>
<rect x="2342.8" y="1197.2" width="17.4" height="9" fill="#ec1c2a"/>
<rect x="2420.4" y="1197.2" width="18.8" height="9" fill="#ec1c2a"/>
<rect x="2340.8" y="1187.7" width="10" height="28" rx="1.5" fill="#ec1c2a"/>
<rect x="2431.2" y="1187.7" width="10" height="28" rx="1.5" fill="#ec1c2a"/>
<polygon points="2358.2,1187.2 2376.2,1187.2 2379.2,1192.2 2401.2,1192.2 2404.2,1187.2 2422.4,1187.2 2422.4,1216.2 2404.2,1216.2 2401.2,1211.2 2379.2,1211.2 2376.2,1216.2 2358.2,1216.2" fill="#62c232"/>
<rect x="2387.2" y="1185.7" width="6" height="32" rx="3" fill="#2f4ea6"/>
<rect x="2328.5" y="1258.1" width="13.9" height="9" fill="#ec1c2a"/>
<rect x="2390.8" y="1258.1" width="13.8" height="9" fill="#ec1c2a"/>
<rect x="2326.5" y="1248.6" width="10" height="28" rx="1.5" fill="#ec1c2a"/>
<rect x="2396.6" y="1248.6" width="10" height="28" rx="1.5" fill="#ec1c2a"/>
<polygon points="2340.4,1248.1 2358.5,1248.1 2361.5,1253.1 2371.5,1253.1 2374.5,1248.1 2392.8,1248.1 2392.8,1277.1 2374.5,1277.1 2371.5,1272.1 2361.5,1272.1 2358.5,1277.1 2340.4,1277.1" fill="#62c232"/>
<rect x="2363.5" y="1246.6" width="6" height="32" rx="3" fill="#2f4ea6"/>
<rect x="2346.3" y="1319" width="15.8" height="9" fill="#ec1c2a"/>
<rect x="2414.5" y="1319" width="14.8" height="9" fill="#ec1c2a"/>
<rect x="2344.3" y="1309.5" width="10" height="28" rx="1.5" fill="#ec1c2a"/>
<rect x="2421.3" y="1309.5" width="10" height="28" rx="1.5" fill="#ec1c2a"/>
<polygon points="2360.1,1309 2377.9,1309 2380.9,1314 2393.9,1314 2396.9,1309 2416.5,1309 2416.5,1338 2396.9,1338 2393.9,1333 2380.9,1333 2377.9,1338 2360.1,1338" fill="#62c232"/>
<rect x="2384.4" y="1307.5" width="6" height="32" rx="3" fill="#2f4ea6"/>
<rect x="2328.5" y="1379.9" width="15.8" height="9" fill="#ec1c2a"/>
<rect x="2396.7" y="1379.9" width="13.8" height="9" fill="#ec1c2a"/>
<rect x="2326.5" y="1370.4" width="10" height="28" rx="1.5" fill="#ec1c2a"/>
<rect x="2402.5" y="1370.4" width="10" height="28" rx="1.5" fill="#ec1c2a"/>
<polygon points="2342.3,1369.9 2360.5,1369.9 2363.5,1374.9 2376.5,1374.9 2379.5,1369.9 2398.7,1369.9 2398.7,1398.9 2379.5,1398.9 2376.5,1393.9 2363.5,1393.9 2360.5,1398.9 2342.3,1398.9" fill="#62c232"/>
<rect x="2367" y="1368.4" width="6" height="32" rx="3" fill="#2f4ea6"/>
<rect x="2333.5" y="1440.7" width="12.4" height="9" fill="#ec1c2a"/>
<rect x="2395.7" y="1440.7" width="13.5" height="9" fill="#ec1c2a"/>
<rect x="2331.5" y="1431.2" width="10" height="28" rx="1.5" fill="#ec1c2a"/>
<rect x="2401.2" y="1431.2" width="10" height="28" rx="1.5" fill="#ec1c2a"/>
<polygon points="2343.9,1430.7 2362.9,1430.7 2365.9,1435.7 2374.9,1435.7 2377.9,1430.7 2397.7,1430.7 2397.7,1459.7 2377.9,1459.7 2374.9,1454.7 2365.9,1454.7 2362.9,1459.7 2343.9,1459.7" fill="#62c232"/>
<rect x="2367.4" y="1429.2" width="6" height="32" rx="3" fill="#2f4ea6"/>
<rect x="2339.4" y="1501.6" width="11.9" height="9" fill="#ec1c2a"/>
<rect x="2401.6" y="1501.6" width="13.5" height="9" fill="#ec1c2a"/>
<rect x="2337.4" y="1492.1" width="10" height="28" rx="1.5" fill="#ec1c2a"/>
<rect x="2407.1" y="1492.1" width="10" height="28" rx="1.5" fill="#ec1c2a"/>
<polygon points="2349.3,1491.6 2368.5,1491.6 2371.5,1496.6 2382.5,1496.6 2385.5,1491.6 2403.6,1491.6 2403.6,1520.6 2385.5,1520.6 2382.5,1515.6 2371.5,1515.6 2368.5,1520.6 2349.3,1520.6" fill="#62c232"/>
<rect x="2374" y="1490.1" width="6" height="32" rx="3" fill="#2f4ea6"/>
<rect x="2333.9" y="1562.5" width="12.2" height="9" fill="#ec1c2a"/>
<rect x="2395.9" y="1562.5" width="14.1" height="9" fill="#ec1c2a"/>
<rect x="2331.9" y="1553" width="10" height="28" rx="1.5" fill="#ec1c2a"/>
<rect x="2402" y="1553" width="10" height="28" rx="1.5" fill="#ec1c2a"/>
<polygon points="2344.1,1552.5 2363.8,1552.5 2366.8,1557.5 2377.8,1557.5 2380.8,1552.5 2397.9,1552.5 2397.9,1581.5 2380.8,1581.5 2377.8,1576.5 2366.8,1576.5 2363.8,1581.5 2344.1,1581.5" fill="#62c232"/>
<rect x="2369.3" y="1551" width="6" height="32" rx="3" fill="#2f4ea6"/>
<rect x="2338.4" y="1623.4" width="10.9" height="9" fill="#ec1c2a"/>
<rect x="2399.1" y="1623.4" width="10.9" height="9" fill="#ec1c2a"/>
<rect x="2336.4" y="1613.9" width="10" height="28" rx="1.5" fill="#ec1c2a"/>
<rect x="2402" y="1613.9" width="10" height="28" rx="1.5" fill="#ec1c2a"/>
<polygon points="2347.3,1613.4 2366.8,1613.4 2369.8,1618.4 2379.8,1618.4 2382.8,1613.4 2401.1,1613.4 2401.1,1642.4 2382.8,1642.4 2379.8,1637.4 2369.8,1637.4 2366.8,1642.4 2347.3,1642.4" fill="#62c232"/>
<rect x="2371.8" y="1611.9" width="6" height="32" rx="3" fill="#2f4ea6"/>
<rect x="2184.5" y="14" width="323" height="1644.5" fill="none" stroke="#262626" stroke-width="4.7"/>
<text x="340" y="64" font-size="55" letter-spacing="-0.8">ALL</text>
<text x="340.5" y="124.8" font-size="55" letter-spacing="-2.5">C45</text>
<text x="340.5" y="185.5" font-size="55" letter-spacing="-2.5">C44</text>
<text x="340.5" y="246.3" font-size="55" letter-spacing="-2.5">C43</text>
<text x="340.5" y="307.1" font-size="55" letter-spacing="-2.5">C42</text>
<text x="340.5" y="367.9" font-size="55" letter-spacing="-2.5">C41</text>
<text x="340.5" y="428.6" font-size="55" letter-spacing="-2.5">C40</text>
<text x="340.5" y="489.4" font-size="55" letter-spacing="-2.5">C39</text>
<text x="340.5" y="550.2" font-size="55" letter-spacing="-2.5">C38</text>
<text x="340.5" y="610.9" font-size="55" letter-spacing="-2.5">C37</text>
<text x="340.5" y="671.7" font-size="55" letter-spacing="-2.5">C36</text>
<text x="340.5" y="732.5" font-size="55" letter-spacing="-2.5">C35</text>
<text x="340.5" y="793.2" font-size="55" letter-spacing="-2.5">C34</text>
<text x="340.5" y="854" font-size="55" letter-spacing="-2.5">C33</text>
<text x="340.5" y="914.8" font-size="55" letter-spacing="-2.5">C32</text>
<text x="340.5" y="975.6" font-size="55" letter-spacing="-2.5">C30</text>
<text x="340.5" y="1036.3" font-size="55" letter-spacing="-2.5">C29</text>
<text x="340.5" y="1097.1" font-size="55" letter-spacing="-2.5">C28</text>
<text x="340.5" y="1157.9" font-size="55" letter-spacing="-2.5">C27</text>
<text x="340.5" y="1218.6" font-size="55" letter-spacing="-2.5">C26</text>
<text x="340.5" y="1279.4" font-size="55" letter-spacing="-2.5">C25</text>
<text x="340.5" y="1340.2" font-size="55" letter-spacing="-2.5">C24</text>
<text x="340.5" y="1400.9" font-size="55" letter-spacing="-2.5">C23</text>
<text x="340.5" y="1461.7" font-size="55" letter-spacing="-2.5">C22</text>
<text x="340.5" y="1522.5" font-size="55" letter-spacing="-2.5">C21</text>
<text x="340.5" y="1583.2" font-size="55" letter-spacing="-2.5">C20</text>
<text x="340.5" y="1644" font-size="55" letter-spacing="-2.5">C19</text>
<rect x="421.3" y="1688.3" width="24.6" height="2.8" fill="#1a1a1a"/>
<rect x="865.4" y="1688.3" width="23.9" height="2.8" fill="#1a1a1a"/>
<rect x="1296.2" y="1688.3" width="24.8" height="2.8" fill="#1a1a1a"/>
<rect x="1740.7" y="1688.3" width="24" height="2.8" fill="#1a1a1a"/>
<rect x="2157.1" y="1688.3" width="24.7" height="2.8" fill="#1a1a1a"/>
<text transform="translate(461.5 1710) scale(0.78 1)" font-size="57.5" text-anchor="middle">1</text>
<text x="613.6" y="1710" font-size="57.5" text-anchor="middle">0</text>
<text transform="translate(780.5 1710) scale(0.78 1)" font-size="57.5" text-anchor="middle">1</text>
<text x="905.1" y="1710" font-size="57.5" text-anchor="middle">2</text>
<text x="1058.5" y="1710" font-size="57.5" text-anchor="middle">0</text>
<text x="1196.7" y="1710" font-size="57.5" text-anchor="middle">2</text>
<text x="1336" y="1710" font-size="57.5" text-anchor="middle">2</text>
<text x="1476" y="1710" font-size="57.5" text-anchor="middle">0</text>
<text x="1640.8" y="1710" font-size="57.5" text-anchor="middle">2</text>
<text x="1780" y="1710" font-size="57.5" text-anchor="middle">5</text>
<text x="1920" y="1710" font-size="57.5" text-anchor="middle">0</text>
<text x="2072" y="1710" font-size="57.5" text-anchor="middle">5</text>
<text x="2197.3" y="1710" font-size="57.5" text-anchor="middle">2</text>
<text x="2350.5" y="1710" font-size="57.5" text-anchor="middle">0</text>
<text x="2501.7" y="1710" font-size="57.5" text-anchor="middle">2</text>
<text x="614.5" y="1791" font-size="56" text-anchor="middle">Radial error / m</text>
<text x="1050" y="1775" font-size="56" text-anchor="middle">Along-track</text>
<text x="1054.5" y="1827" font-size="56" text-anchor="middle">error / m</text>
<text x="1489" y="1776.6" font-size="56" text-anchor="middle">Cross-track</text>
<text x="1485.4" y="1828" font-size="56" text-anchor="middle">error / m</text>
<text x="1916.2" y="1800.5" font-size="56" text-anchor="middle">CLK error / m</text>
<text x="2352.2" y="1794.6" font-size="56" text-anchor="middle">SISRE / m</text>
<text transform="translate(276.1 875.5) rotate(-90)" font-size="56" text-anchor="middle">Satellite number and block</text>
</svg></body></html>
